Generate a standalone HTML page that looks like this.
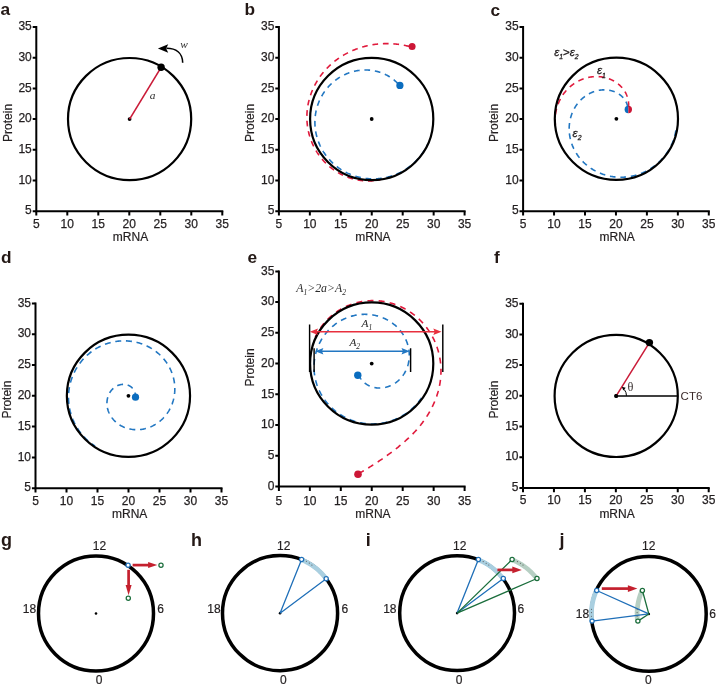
<!DOCTYPE html>
<html><head><meta charset="utf-8"><style>
html,body{margin:0;padding:0;background:#fff;}
svg{display:block;will-change:transform;}
text{font-family:"Liberation Sans",sans-serif;fill:#231f20;}
.tk{font-size:12px;stroke:#231f20;stroke-width:0.25px;}
.at{font-size:12px;stroke:#231f20;stroke-width:0.2px;}
.pl{font-size:17.3px;font-weight:bold;fill:#231815;}
.it{font-family:"Liberation Serif",serif;font-style:italic;font-size:11.4px;fill:#2a2a2a;}
.it2{font-family:"Liberation Serif",serif;font-style:italic;font-size:12px;fill:#3a3a3a;}
.sub{font-size:7.5px;}
.sans{font-family:"Liberation Sans",sans-serif;font-style:normal;}
.eps{font-family:"Liberation Sans",sans-serif;font-style:italic;font-size:11.5px;fill:#231f20;stroke:#231f20;stroke-width:0.3px;}
.esub{font-size:6.8px;}
.gt{font-style:normal;font-size:11.5px;}
.th{font-family:"Liberation Serif",serif;font-size:12.3px;fill:#3a3030;}
.ct{font-size:11.5px;fill:#3b2a2a;}
.ck{font-size:12px;stroke:#231f20;stroke-width:0.2px;}
</style></head><body>
<svg width="716" height="688" viewBox="0 0 716 688">
<text x="0.4" y="15.3" class="pl">a</text>
<text x="244.6" y="15.3" class="pl">b</text>
<text x="490.6" y="15.5" class="pl">c</text>
<text x="1.0" y="262.6" class="pl">d</text>
<text x="247.6" y="262.6" class="pl">e</text>
<text x="493.9" y="262.7" class="pl">f</text>
<text x="1.0" y="546.0" class="pl" style="font-size:18px">g</text>
<text x="191.1" y="545.9" class="pl" style="font-size:18px">h</text>
<text x="365.7" y="546.2" class="pl" style="font-size:18px">i</text>
<text x="559.5" y="546.15" class="pl" style="font-size:18px">j</text>
<path d="M36.30,26.00V211.20H223.30" fill="none" stroke="#000" stroke-width="2"/>
<text x="31.80" y="214.40" text-anchor="end" class="tk">5</text>
<text x="31.80" y="183.70" text-anchor="end" class="tk">10</text>
<text x="31.80" y="153.00" text-anchor="end" class="tk">15</text>
<text x="31.80" y="122.30" text-anchor="end" class="tk">20</text>
<text x="31.80" y="91.60" text-anchor="end" class="tk">25</text>
<text x="31.80" y="60.90" text-anchor="end" class="tk">30</text>
<text x="31.80" y="30.20" text-anchor="end" class="tk">35</text>
<text x="36.30" y="227.60" text-anchor="middle" class="tk">5</text>
<text x="67.30" y="227.60" text-anchor="middle" class="tk">10</text>
<text x="98.30" y="227.60" text-anchor="middle" class="tk">15</text>
<text x="129.30" y="227.60" text-anchor="middle" class="tk">20</text>
<text x="160.30" y="227.60" text-anchor="middle" class="tk">25</text>
<text x="191.30" y="227.60" text-anchor="middle" class="tk">30</text>
<text x="222.30" y="227.60" text-anchor="middle" class="tk">35</text>
<path d="M32.70,211.20H36.30M32.70,180.50H36.30M32.70,149.80H36.30M32.70,119.10H36.30M32.70,88.40H36.30M32.70,57.70H36.30M32.70,27.00H36.30M36.30,211.20V215.60M67.30,211.20V215.60M98.30,211.20V215.60M129.30,211.20V215.60M160.30,211.20V215.60M191.30,211.20V215.60M222.30,211.20V215.60" fill="none" stroke="#000" stroke-width="2"/>
<text x="130.50" y="240.80" text-anchor="middle" class="at">mRNA</text>
<text transform="translate(11.50,122.90) rotate(-90)" text-anchor="middle" class="at">Protein</text>
<ellipse cx="129.60" cy="119.10" rx="61.6" ry="61.1" fill="none" stroke="#000" stroke-width="2.2"/>
<circle cx="129.60" cy="119.10" r="1.9" fill="#000"/>
<line x1="129.60" y1="119.10" x2="161.10" y2="67.30" stroke="#ca1b38" stroke-width="1.6"/>
<circle cx="161.10" cy="67.30" r="3.7" fill="#000"/>
<path d="M182.7,62.8 C182.5,53 176,48.3 166.5,48.3" fill="none" stroke="#000" stroke-width="1.6"/>
<path d="M157.9,48.6 L168.2,44.2 L166.2,48.5 L168.2,52.8 Z" fill="#000"/>
<text x="180.2" y="47.9" class="it">w</text>
<text x="149.8" y="98.9" class="it">a</text>
<path d="M278.90,26.00V211.20H465.60" fill="none" stroke="#000" stroke-width="2"/>
<text x="274.40" y="214.40" text-anchor="end" class="tk">5</text>
<text x="274.40" y="183.70" text-anchor="end" class="tk">10</text>
<text x="274.40" y="153.00" text-anchor="end" class="tk">15</text>
<text x="274.40" y="122.30" text-anchor="end" class="tk">20</text>
<text x="274.40" y="91.60" text-anchor="end" class="tk">25</text>
<text x="274.40" y="60.90" text-anchor="end" class="tk">30</text>
<text x="274.40" y="30.20" text-anchor="end" class="tk">35</text>
<text x="278.90" y="227.60" text-anchor="middle" class="tk">5</text>
<text x="309.85" y="227.60" text-anchor="middle" class="tk">10</text>
<text x="340.80" y="227.60" text-anchor="middle" class="tk">15</text>
<text x="371.75" y="227.60" text-anchor="middle" class="tk">20</text>
<text x="402.70" y="227.60" text-anchor="middle" class="tk">25</text>
<text x="433.65" y="227.60" text-anchor="middle" class="tk">30</text>
<text x="464.60" y="227.60" text-anchor="middle" class="tk">35</text>
<path d="M275.30,211.20H278.90M275.30,180.50H278.90M275.30,149.80H278.90M275.30,119.10H278.90M275.30,88.40H278.90M275.30,57.70H278.90M275.30,27.00H278.90M278.90,211.20V215.60M309.85,211.20V215.60M340.80,211.20V215.60M371.75,211.20V215.60M402.70,211.20V215.60M433.65,211.20V215.60M464.60,211.20V215.60" fill="none" stroke="#000" stroke-width="2"/>
<text x="372.95" y="240.80" text-anchor="middle" class="at">mRNA</text>
<text transform="translate(254.10,122.90) rotate(-90)" text-anchor="middle" class="at">Protein</text>
<path d="M411.82,47.10 L411.20,46.93 L410.58,46.76 L409.96,46.60 L409.34,46.44 L408.72,46.28 L408.09,46.13 L407.47,45.99 L406.85,45.85 L406.23,45.71 L405.61,45.58 L404.99,45.45 L404.37,45.33 L403.76,45.21 L403.14,45.09 L402.52,44.98 L401.90,44.88 L401.28,44.78 L400.67,44.68 L400.05,44.59 L399.43,44.50 L398.82,44.41 L398.20,44.33 L397.59,44.26 L396.97,44.19 L396.36,44.12 L395.75,44.06 L395.14,44.00 L394.53,43.94 L393.92,43.89 L393.31,43.85 L392.70,43.80 L392.09,43.77 L391.48,43.73 L390.87,43.70 L390.27,43.68 L389.66,43.65 L389.06,43.64 L388.46,43.62 L387.86,43.61 L387.25,43.61 L386.65,43.61 L386.05,43.61 L385.46,43.62 L384.86,43.63 L384.26,43.64 L383.67,43.66 L383.07,43.68 L382.48,43.71 L381.89,43.74 L381.30,43.77 L380.71,43.81 L380.12,43.85 L379.54,43.90 L378.95,43.94 L378.37,44.00 L377.78,44.06 L377.20,44.12 L376.62,44.18 L376.04,44.25 L375.46,44.32 L374.89,44.40 L374.31,44.48 L373.74,44.56 L373.17,44.65 L372.60,44.74 L372.03,44.83 L371.46,44.93 L370.89,45.03 L370.33,45.13 L369.77,45.24 L369.21,45.36 L368.65,45.47 L368.09,45.59 L367.53,45.71 L366.97,45.84 L366.42,45.97 L365.87,46.10 L365.32,46.24 L364.77,46.38 L364.22,46.52 L363.68,46.67 L363.14,46.82 L362.59,46.98 L362.05,47.13 L361.52,47.29 L360.98,47.46 L360.45,47.63 L359.91,47.80 L359.38,47.97 L358.85,48.15 L358.33,48.33 L357.80,48.51 L357.28,48.70 L356.76,48.89 L356.24,49.08 L355.72,49.28 L355.21,49.48 L354.69,49.68 L354.18,49.89 L353.67,50.10 L353.17,50.31 L352.66,50.53 L352.16,50.75 L351.66,50.97 L351.16,51.20 L350.66,51.42 L350.17,51.65 L349.68,51.89 L349.19,52.13 L348.70,52.37 L348.21,52.61 L347.73,52.86 L347.25,53.10 L346.77,53.36 L346.29,53.61 L345.82,53.87 L345.35,54.13 L344.88,54.39 L344.41,54.66 L343.94,54.93 L343.48,55.20 L343.02,55.48 L342.56,55.75 L342.11,56.03 L341.65,56.32 L341.20,56.60 L340.75,56.89 L340.31,57.18 L339.86,57.48 L339.42,57.77 L338.98,58.07 L338.54,58.38 L338.11,58.68 L337.68,58.99 L337.25,59.30 L336.82,59.61 L336.40,59.92 L335.98,60.24 L335.56,60.56 L335.14,60.88 L334.73,61.21 L334.32,61.54 L333.91,61.87 L333.51,62.20 L333.10,62.53 L332.70,62.87 L332.30,63.21 L331.91,63.55 L331.52,63.90 L331.13,64.24 L330.74,64.59 L330.36,64.94 L329.97,65.30 L329.60,65.65 L329.22,66.01 L328.85,66.37 L328.48,66.74 L328.11,67.10 L327.74,67.47 L327.38,67.84 L327.02,68.21 L326.67,68.58 L326.31,68.96 L325.96,69.33 L325.61,69.71 L325.27,70.10 L324.93,70.48 L324.59,70.87 L324.25,71.25 L323.92,71.64 L323.59,72.04 L323.26,72.43 L322.94,72.83 L322.62,73.22 L322.30,73.62 L321.98,74.02 L321.67,74.43 L321.36,74.83 L321.05,75.24 L320.75,75.65 L320.45,76.06 L320.15,76.47 L319.86,76.89 L319.57,77.30 L319.28,77.72 L318.99,78.14 L318.71,78.56 L318.43,78.98 L318.16,79.41 L317.89,79.83 L317.62,80.26 L317.35,80.69 L317.09,81.12 L316.83,81.55 L316.57,81.99 L316.32,82.42 L316.07,82.86 L315.82,83.30 L315.57,83.74 L315.33,84.18 L315.10,84.62 L314.86,85.06 L314.63,85.51 L314.40,85.96 L314.18,86.40 L313.96,86.85 L313.74,87.30 L313.52,87.76 L313.31,88.21 L313.10,88.66 L312.90,89.12 L312.70,89.57 L312.50,90.03 L312.31,90.49 L312.11,90.95 L311.93,91.41 L311.74,91.88 L311.56,92.34 L311.38,92.80 L311.21,93.27 L311.03,93.74 L310.87,94.20 L310.70,94.67 L310.54,95.14 L310.38,95.61 L310.23,96.08 L310.08,96.55 L309.93,97.03 L309.79,97.50 L309.64,97.98 L309.51,98.45 L309.37,98.93 L309.24,99.40 L309.12,99.88 L308.99,100.36 L308.87,100.84 L308.76,101.32 L308.64,101.80 L308.53,102.28 L308.43,102.76 L308.32,103.24 L308.22,103.73 L308.13,104.21 L308.04,104.69 L307.95,105.18 L307.86,105.66 L307.78,106.15 L307.70,106.63 L307.63,107.12 L307.56,107.60 L307.49,108.09 L307.42,108.58 L307.36,109.07 L307.31,109.55 L307.25,110.04 L307.20,110.53 L307.16,111.02 L307.11,111.50 L307.07,111.99 L307.04,112.48 L307.01,112.97 L306.98,113.46 L306.95,113.95 L306.93,114.44 L306.91,114.93 L306.90,115.42 L306.89,115.90 L306.88,116.39 L306.88,116.88 L306.88,117.37 L306.88,117.86 L306.89,118.35 L306.90,118.84 L306.91,119.32 L306.93,119.81 L306.95,120.30 L306.97,120.79 L307.00,121.27 L307.03,121.76 L307.07,122.25 L307.11,122.73 L307.15,123.22 L307.20,123.70 L307.25,124.19 L307.30,124.67 L307.35,125.15 L307.41,125.64 L307.48,126.12 L307.55,126.60 L307.62,127.08 L307.69,127.57 L307.77,128.05 L307.85,128.52 L307.94,129.00 L308.02,129.48 L308.12,129.96 L308.21,130.44 L308.31,130.91 L308.41,131.39 L308.52,131.86 L308.63,132.33 L308.74,132.81 L308.86,133.28 L308.98,133.75 L309.10,134.22 L309.23,134.69 L309.36,135.15 L309.49,135.62 L309.63,136.09 L309.77,136.55 L309.91,137.01 L310.06,137.48 L310.21,137.94 L310.37,138.40 L310.52,138.86 L310.69,139.31 L310.85,139.77 L311.02,140.22 L311.19,140.68 L311.37,141.13 L311.54,141.58 L311.72,142.03 L311.91,142.48 L312.10,142.93 L312.29,143.37 L312.48,143.81 L312.68,144.26 L312.88,144.70 L313.09,145.14 L313.30,145.57 L313.51,146.01 L313.72,146.44 L313.94,146.88 L314.16,147.31 L314.39,147.74 L314.61,148.16 L314.84,148.59 L315.08,149.01 L315.32,149.43 L315.56,149.85 L315.80,150.27 L316.05,150.69 L316.30,151.10 L316.55,151.52 L316.81,151.93 L317.06,152.33 L317.33,152.74 L317.59,153.15 L317.86,153.55 L318.13,153.95 L318.41,154.35 L318.68,154.74 L318.96,155.14 L319.25,155.53 L319.53,155.92 L319.82,156.31 L320.11,156.69 L320.41,157.07 L320.71,157.45 L321.01,157.83 L321.31,158.21 L321.62,158.58 L321.93,158.95 L322.24,159.32 L322.56,159.69 L322.87,160.05 L323.19,160.42 L323.52,160.77 L323.84,161.13 L324.17,161.48 L324.50,161.84 L324.84,162.18 L325.18,162.53 L325.51,162.87 L325.86,163.22 L326.20,163.55 L326.55,163.89 L326.90,164.22 L327.25,164.55 L327.61,164.88 L327.96,165.20 L328.32,165.53 L328.69,165.85 L329.05,166.16 L329.42,166.47 L329.79,166.79 L330.16,167.09 L330.53,167.40 L330.91,167.70 L331.29,168.00 L331.67,168.29 L332.05,168.59 L332.44,168.88 L332.83,169.16 L333.22,169.45 L333.61,169.73 L334.00,170.00 L334.40,170.28 L334.80,170.55 L335.20,170.82 L335.60,171.08 L336.00,171.34 L336.41,171.60 L336.82,171.86 L337.23,172.11 L337.64,172.36 L338.06,172.61 L338.47,172.85 L338.89,173.09 L339.31,173.32 L339.73,173.55 L340.16,173.78 L340.58,174.01 L341.01,174.23 L341.44,174.45 L341.87,174.67 L342.30,174.88 L342.73,175.09 L343.17,175.29 L343.60,175.49 L344.04,175.69 L344.48,175.89 L344.92,176.08 L345.36,176.27 L345.81,176.45 L346.25,176.63 L346.70,176.81 L347.15,176.98 L347.60,177.15 L348.05,177.32 L348.50,177.48 L348.95,177.64 L349.40,177.80 L349.86,177.95 L350.31,178.10 L350.77,178.24 L351.23,178.38 L351.69,178.52 L352.15,178.65 L352.61,178.78 L353.07,178.91 L353.54,179.03 L354.00,179.15 L354.46,179.26 L354.93,179.38 L355.40,179.48 L355.86,179.59 L356.33,179.69 L356.80,179.78 L357.27,179.88 L357.74,179.96 L358.21,180.05 L358.68,180.13 L359.15,180.21 L359.62,180.28 L360.09,180.35 L360.56,180.42 L361.04,180.48 L361.51,180.54 L361.98,180.59 L362.46,180.64 L362.93,180.69 L363.41,180.73 L363.88,180.77 L364.36,180.81 L364.83,180.84 L365.30,180.86 L365.78,180.89 L366.25,180.91 L366.73,180.92 L367.20,180.93 L367.68,180.94 L368.15,180.95 L368.63,180.95 L369.10,180.94 L369.58,180.94 L370.05,180.93 L370.52,180.91 L371.00,180.89 L371.47,180.87 L371.94,180.84 L372.41,180.81 L372.88,180.78 L373.36,180.74 L373.83,180.70 L374.30,180.65 L374.77,180.60 L375.23,180.55 L375.70,180.49 L376.17,180.43 L376.64,180.37 L377.10,180.30 L377.57,180.22 L378.03,180.15 L378.49,180.07 L378.96,179.98 L379.42,179.90 L379.88,179.80 L380.34,179.71" fill="none" stroke="#e01a3c" stroke-width="1.6" stroke-dasharray="5.7 4.8" stroke-dashoffset="-2.55"/>
<path d="M399.70,85.64 L399.42,85.30 L399.13,84.96 L398.84,84.62 L398.54,84.29 L398.24,83.96 L397.94,83.63 L397.63,83.31 L397.32,82.99 L397.00,82.67 L396.68,82.35 L396.36,82.04 L396.03,81.73 L395.69,81.43 L395.36,81.12 L395.02,80.82 L394.67,80.52 L394.33,80.23 L393.97,79.94 L393.62,79.65 L393.26,79.37 L392.90,79.09 L392.53,78.81 L392.16,78.54 L391.79,78.27 L391.41,78.00 L391.03,77.74 L390.64,77.48 L390.26,77.22 L389.87,76.97 L389.47,76.73 L389.07,76.48 L388.67,76.24 L388.27,76.01 L387.86,75.77 L387.45,75.55 L387.04,75.32 L386.62,75.10 L386.20,74.89 L385.78,74.68 L385.36,74.47 L384.93,74.27 L384.50,74.07 L384.07,73.87 L383.63,73.68 L383.19,73.50 L382.75,73.32 L382.31,73.14 L381.86,72.97 L381.41,72.80 L380.96,72.64 L380.51,72.48 L380.05,72.33 L379.59,72.18 L379.13,72.03 L378.67,71.89 L378.20,71.76 L377.74,71.63 L377.27,71.50 L376.80,71.38 L376.32,71.27 L375.85,71.16 L375.37,71.05 L374.90,70.95 L374.42,70.85 L373.93,70.76 L373.45,70.68 L372.97,70.59 L372.48,70.52 L371.99,70.45 L371.50,70.38 L371.01,70.32 L370.52,70.26 L370.03,70.21 L369.54,70.17 L369.04,70.13 L368.55,70.09 L368.05,70.06 L367.55,70.04 L367.06,70.02 L366.56,70.00 L366.06,70.00 L365.56,69.99 L365.05,69.99 L364.55,70.00 L364.05,70.01 L363.55,70.03 L363.05,70.05 L362.54,70.08 L362.04,70.11 L361.54,70.15 L361.03,70.20 L360.53,70.24 L360.02,70.30 L359.52,70.36 L359.02,70.42 L358.51,70.50 L358.01,70.57 L357.51,70.65 L357.00,70.74 L356.50,70.83 L356.00,70.93 L355.50,71.03 L355.00,71.14 L354.50,71.25 L354.00,71.37 L353.50,71.50 L353.00,71.63 L352.50,71.76 L352.01,71.90 L351.51,72.05 L351.02,72.20 L350.53,72.35 L350.03,72.52 L349.54,72.68 L349.06,72.85 L348.57,73.03 L348.08,73.21 L347.60,73.40 L347.11,73.59 L346.63,73.79 L346.15,74.00 L345.67,74.20 L345.20,74.42 L344.72,74.64 L344.25,74.86 L343.78,75.09 L343.31,75.33 L342.84,75.56 L342.38,75.81 L341.91,76.06 L341.45,76.31 L341.00,76.57 L340.54,76.84 L340.09,77.11 L339.64,77.38 L339.19,77.66 L338.74,77.95 L338.30,78.24 L337.86,78.53 L337.42,78.83 L336.99,79.13 L336.55,79.44 L336.12,79.75 L335.70,80.07 L335.27,80.39 L334.85,80.72 L334.44,81.05 L334.02,81.39 L333.61,81.73 L333.21,82.08 L332.80,82.43 L332.40,82.78 L332.00,83.14 L331.61,83.50 L331.22,83.87 L330.83,84.24 L330.45,84.62 L330.07,85.00 L329.69,85.38 L329.32,85.77 L328.95,86.16 L328.59,86.56 L328.23,86.96 L327.87,87.37 L327.52,87.78 L327.17,88.19 L326.82,88.61 L326.48,89.03 L326.15,89.45 L325.82,89.88 L325.49,90.31 L325.16,90.75 L324.84,91.19 L324.53,91.63 L324.22,92.08 L323.91,92.53 L323.61,92.98 L323.32,93.44 L323.02,93.90 L322.74,94.36 L322.45,94.83 L322.17,95.30 L321.90,95.77 L321.63,96.25 L321.37,96.73 L321.11,97.21 L320.85,97.70 L320.60,98.19 L320.36,98.68 L320.12,99.17 L319.89,99.67 L319.66,100.17 L319.43,100.67 L319.21,101.18 L319.00,101.68 L318.79,102.19 L318.59,102.71 L318.39,103.22 L318.19,103.74 L318.01,104.26 L317.82,104.78 L317.65,105.30 L317.47,105.83 L317.31,106.36 L317.15,106.89 L316.99,107.42 L316.84,107.95 L316.69,108.49 L316.55,109.03 L316.42,109.57 L316.29,110.11 L316.17,110.65 L316.05,111.20 L315.94,111.74 L315.83,112.29 L315.73,112.84 L315.64,113.39 L315.55,113.94 L315.47,114.49 L315.39,115.04 L315.32,115.60 L315.25,116.15 L315.19,116.71 L315.13,117.27 L315.09,117.83 L315.04,118.39 L315.00,118.95 L314.97,119.51 L314.95,120.07 L314.93,120.63 L314.91,121.19 L314.90,121.75 L314.90,122.32 L314.90,122.88 L314.91,123.44 L314.93,124.01 L314.95,124.57 L314.98,125.14 L315.01,125.70 L315.05,126.26 L315.09,126.83 L315.14,127.39 L315.20,127.95 L315.26,128.52 L315.33,129.08 L315.40,129.64 L315.48,130.20 L315.56,130.77 L315.65,131.33 L315.75,131.89 L315.85,132.45 L315.96,133.00 L316.08,133.56 L316.20,134.12 L316.32,134.67 L316.45,135.23 L316.59,135.78 L316.74,136.33 L316.88,136.88 L317.04,137.43 L317.20,137.98 L317.37,138.53 L317.54,139.08 L317.72,139.62 L317.90,140.16 L318.09,140.70 L318.28,141.24 L318.48,141.78 L318.69,142.32 L318.90,142.85 L319.12,143.38 L319.34,143.91 L319.57,144.44 L319.80,144.96 L320.04,145.49 L320.29,146.01 L320.54,146.53 L320.79,147.04 L321.05,147.56 L321.32,148.07 L321.59,148.58 L321.87,149.09 L322.15,149.59 L322.44,150.09 L322.73,150.59 L323.03,151.08 L323.33,151.58 L323.64,152.07 L323.96,152.55 L324.28,153.04 L324.60,153.52 L324.93,154.00 L325.26,154.47 L325.60,154.94 L325.95,155.41 L326.29,155.88 L326.65,156.34 L327.01,156.80 L327.37,157.25 L327.74,157.70 L328.11,158.15 L328.49,158.59 L328.87,159.03 L329.26,159.47 L329.65,159.90 L330.05,160.33 L330.45,160.76 L330.85,161.18 L331.26,161.59 L331.68,162.01 L332.10,162.42 L332.52,162.82 L332.95,163.22 L333.38,163.62 L333.81,164.01 L334.25,164.40 L334.70,164.78 L335.15,165.16 L335.60,165.54 L336.05,165.91 L336.51,166.27 L336.98,166.63 L337.44,166.99 L337.92,167.34 L338.39,167.69 L338.87,168.03 L339.35,168.37 L339.84,168.71 L340.33,169.03 L340.82,169.36 L341.32,169.68 L341.82,169.99 L342.32,170.30 L342.83,170.60 L343.33,170.90 L343.85,171.20 L344.36,171.49 L344.88,171.77 L345.40,172.05 L345.93,172.32 L346.46,172.59 L346.99,172.85 L347.52,173.11 L348.06,173.36 L348.60,173.61 L349.14,173.85 L349.68,174.09 L350.23,174.32 L350.78,174.54 L351.33,174.76 L351.89,174.98 L352.44,175.19 L353.00,175.39 L353.56,175.59 L354.13,175.78 L354.69,175.97 L355.26,176.15 L355.83,176.32 L356.40,176.49 L356.97,176.65 L357.55,176.81 L358.12,176.97 L358.70,177.11 L359.28,177.25 L359.86,177.39 L360.44,177.52 L361.03,177.64 L361.61,177.76 L362.20,177.87 L362.79,177.98 L363.38,178.08 L363.97,178.17 L364.56,178.26 L365.15,178.34 L365.75,178.42 L366.34,178.49 L366.94,178.55 L367.53,178.61 L368.13,178.66 L368.73,178.71 L369.32,178.75 L369.92,178.78 L370.52,178.81 L371.12,178.84 L371.72,178.85 L372.32,178.86 L372.92,178.87 L373.52,178.87 L374.12,178.86 L374.72,178.85 L375.32,178.83 L375.92,178.80 L376.52,178.77 L377.12,178.73 L377.72,178.69 L378.32,178.64 L378.92,178.58 L379.52,178.52 L380.11,178.45 L380.71,178.38 L381.31,178.30 L381.90,178.22 L382.50,178.12 L383.09,178.03 L383.69,177.92 L384.28,177.81 L384.87,177.70 L385.46,177.58 L386.05,177.45 L386.64,177.32 L387.22,177.18 L387.81,177.04 L388.39,176.88 L388.97,176.73 L389.56,176.57 L390.13,176.40 L390.71,176.22 L391.29,176.04 L391.86,175.86 L392.43,175.67 L393.01,175.47 L393.57,175.27 L394.14,175.06 L394.71,174.85 L395.27,174.63 L395.83,174.40 L396.39,174.17 L396.94,173.93 L397.50,173.69 L398.05,173.44 L398.60,173.19 L399.14,172.93 L399.69,172.67 L400.23,172.40 L400.76,172.12 L401.30,171.84 L401.83,171.56 L402.36,171.27 L402.89,170.97 L403.41,170.67 L403.94,170.36 L404.45,170.05 L404.97,169.73 L405.48,169.41 L405.99,169.08 L406.50,168.75 L407.00,168.41 L407.50,168.07 L407.99,167.72 L408.48,167.37 L408.97,167.01 L409.46,166.65 L409.94,166.28 L410.42,165.91 L410.89,165.53 L411.36,165.15 L411.83,164.76 L412.29,164.37 L412.75,163.97 L413.20,163.57 L413.65,163.17 L414.10,162.76 L414.54,162.34 L414.98,161.93 L415.41,161.50 L415.84,161.08 L416.27,160.64 L416.69,160.21 L417.11,159.77 L417.52,159.32 L417.93,158.88 L418.33,158.42 L418.73,157.97 L419.12,157.51 L419.51,157.04 L419.90,156.57 L420.28,156.10 L420.65,155.63 L421.02,155.15 L421.39,154.66 L421.75,154.18 L422.11,153.68 L422.46,153.19 L422.81,152.69 L423.15,152.19 L423.48,151.69 L423.82,151.18 L424.14,150.67 L424.46,150.15 L424.78,149.63 L425.09,149.11 L425.40,148.59 L425.70,148.06 L425.99,147.53 L426.28,147.00 L426.57,146.46 L426.84,145.92 L427.12,145.38 L427.39,144.83" fill="none" stroke="#2277c2" stroke-width="1.6" stroke-dasharray="5.7 4.8" stroke-dashoffset="-2.75"/>
<ellipse cx="371.70" cy="119.00" rx="61.6" ry="61.1" fill="none" stroke="#000" stroke-width="2.2"/>
<circle cx="371.70" cy="119.00" r="1.9" fill="#000"/>
<circle cx="412.1" cy="46.6" r="3.5" fill="#cc1636"/>
<circle cx="399.9" cy="85.4" r="3.6" fill="#0b6dbf"/>
<path d="M523.10,26.00V211.20H709.80" fill="none" stroke="#000" stroke-width="2"/>
<text x="518.60" y="214.40" text-anchor="end" class="tk">5</text>
<text x="518.60" y="183.70" text-anchor="end" class="tk">10</text>
<text x="518.60" y="153.00" text-anchor="end" class="tk">15</text>
<text x="518.60" y="122.30" text-anchor="end" class="tk">20</text>
<text x="518.60" y="91.60" text-anchor="end" class="tk">25</text>
<text x="518.60" y="60.90" text-anchor="end" class="tk">30</text>
<text x="518.60" y="30.20" text-anchor="end" class="tk">35</text>
<text x="523.10" y="227.60" text-anchor="middle" class="tk">5</text>
<text x="554.05" y="227.60" text-anchor="middle" class="tk">10</text>
<text x="585.00" y="227.60" text-anchor="middle" class="tk">15</text>
<text x="615.95" y="227.60" text-anchor="middle" class="tk">20</text>
<text x="646.90" y="227.60" text-anchor="middle" class="tk">25</text>
<text x="677.85" y="227.60" text-anchor="middle" class="tk">30</text>
<text x="708.80" y="227.60" text-anchor="middle" class="tk">35</text>
<path d="M519.50,211.20H523.10M519.50,180.50H523.10M519.50,149.80H523.10M519.50,119.10H523.10M519.50,88.40H523.10M519.50,57.70H523.10M519.50,27.00H523.10M523.10,211.20V215.60M554.05,211.20V215.60M585.00,211.20V215.60M615.95,211.20V215.60M646.90,211.20V215.60M677.85,211.20V215.60M708.80,211.20V215.60" fill="none" stroke="#000" stroke-width="2"/>
<text x="617.15" y="240.80" text-anchor="middle" class="at">mRNA</text>
<text transform="translate(498.30,122.90) rotate(-90)" text-anchor="middle" class="at">Protein</text>
<path d="M627.92,109.68 L627.95,109.55 L627.98,109.42 L628.02,109.30 L628.05,109.16 L628.08,109.03 L628.11,108.90 L628.14,108.77 L628.17,108.64 L628.20,108.50 L628.23,108.37 L628.25,108.23 L628.28,108.09 L628.31,107.96 L628.33,107.82 L628.35,107.68 L628.38,107.54 L628.40,107.40 L628.42,107.26 L628.44,107.12 L628.46,106.97 L628.47,106.83 L628.49,106.69 L628.51,106.54 L628.52,106.40 L628.54,106.25 L628.55,106.10 L628.56,105.95 L628.57,105.81 L628.58,105.66 L628.59,105.51 L628.60,105.36 L628.61,105.21 L628.61,105.05 L628.62,104.90 L628.62,104.75 L628.62,104.60 L628.63,104.44 L628.63,104.29 L628.63,104.13 L628.62,103.98 L628.62,103.82 L628.62,103.66 L628.61,103.51 L628.61,103.35 L628.60,103.19 L628.59,103.03 L628.58,102.87 L628.57,102.71 L628.56,102.55 L628.54,102.39 L628.53,102.23 L628.51,102.06 L628.50,101.90 L628.48,101.74 L628.46,101.58 L628.44,101.41 L628.42,101.25 L628.39,101.08 L628.37,100.92 L628.34,100.75 L628.32,100.59 L628.29,100.42 L628.26,100.25 L628.23,100.09 L628.20,99.92 L628.16,99.75 L628.13,99.58 L628.09,99.41 L628.05,99.25 L628.01,99.08 L627.97,98.91 L627.93,98.74 L627.89,98.57 L627.85,98.40 L627.80,98.23 L627.75,98.06 L627.70,97.89 L627.65,97.72 L627.60,97.55 L627.55,97.38 L627.50,97.20 L627.44,97.03 L627.38,96.86 L627.33,96.69 L627.27,96.52 L627.20,96.35 L627.14,96.17 L627.08,96.00 L627.01,95.83 L626.95,95.66 L626.88,95.48 L626.81,95.31 L626.74,95.14 L626.66,94.97 L626.59,94.80 L626.51,94.62 L626.44,94.45 L626.36,94.28 L626.28,94.11 L626.20,93.94 L626.11,93.76 L626.03,93.59 L625.94,93.42 L625.86,93.25 L625.77,93.08 L625.68,92.91 L625.58,92.73 L625.49,92.56 L625.40,92.39 L625.30,92.22 L625.20,92.05 L625.10,91.88 L625.00,91.71 L624.90,91.54 L624.79,91.37 L624.69,91.20 L624.58,91.04 L624.47,90.87 L624.36,90.70 L624.25,90.53 L624.14,90.36 L624.02,90.20 L623.91,90.03 L623.79,89.87 L623.67,89.70 L623.55,89.53 L623.43,89.37 L623.30,89.20 L623.18,89.04 L623.05,88.88 L622.92,88.71 L622.79,88.55 L622.66,88.39 L622.53,88.23 L622.40,88.07 L622.26,87.91 L622.12,87.75 L621.98,87.59 L621.84,87.43 L621.70,87.27 L621.56,87.11 L621.42,86.96 L621.27,86.80 L621.12,86.65 L620.97,86.49 L620.82,86.34 L620.67,86.18 L620.52,86.03 L620.36,85.88 L620.20,85.73 L620.05,85.58 L619.89,85.43 L619.73,85.28 L619.56,85.13 L619.40,84.99 L619.24,84.84 L619.07,84.69 L618.90,84.55 L618.73,84.41 L618.56,84.26 L618.39,84.12 L618.21,83.98 L618.04,83.84 L617.86,83.70 L617.68,83.56 L617.51,83.43 L617.32,83.29 L617.14,83.15 L616.96,83.02 L616.77,82.89 L616.59,82.75 L616.40,82.62 L616.21,82.49 L616.02,82.36 L615.83,82.24 L615.64,82.11 L615.44,81.98 L615.25,81.86 L615.05,81.74 L614.85,81.61 L614.65,81.49 L614.45,81.37 L614.25,81.25 L614.05,81.14 L613.84,81.02 L613.64,80.91 L613.43,80.79 L613.22,80.68 L613.01,80.57 L612.80,80.46 L612.59,80.35 L612.38,80.24 L612.16,80.14 L611.95,80.03 L611.73,79.93 L611.51,79.83 L611.29,79.72 L611.07,79.63 L610.85,79.53 L610.63,79.43 L610.41,79.34 L610.18,79.24 L609.96,79.15 L609.73,79.06 L609.50,78.97 L609.27,78.88 L609.04,78.79 L608.81,78.71 L608.58,78.63 L608.35,78.54 L608.11,78.46 L607.88,78.38 L607.64,78.31 L607.40,78.23 L607.17,78.16 L606.93,78.08 L606.69,78.01 L606.45,77.94 L606.20,77.88 L605.96,77.81 L605.72,77.74 L605.47,77.68 L605.23,77.62 L604.98,77.56 L604.74,77.50 L604.49,77.45 L604.24,77.39 L603.99,77.34 L603.74,77.29 L603.49,77.24 L603.24,77.19 L602.98,77.14 L602.73,77.10 L602.48,77.05 L602.22,77.01 L601.97,76.97 L601.71,76.94 L601.45,76.90 L601.20,76.87 L600.94,76.83 L600.68,76.80 L600.42,76.77 L600.16,76.75 L599.90,76.72 L599.64,76.70 L599.38,76.68 L599.11,76.66 L598.85,76.64 L598.59,76.62 L598.33,76.61 L598.06,76.60 L597.80,76.59 L597.53,76.58 L597.27,76.57 L597.00,76.57 L596.73,76.57 L596.47,76.57 L596.20,76.57 L595.93,76.57 L595.66,76.57 L595.40,76.58 L595.13,76.59 L594.86,76.60 L594.59,76.61 L594.32,76.63 L594.05,76.64 L593.78,76.66 L593.51,76.68 L593.24,76.71 L592.97,76.73 L592.70,76.76 L592.43,76.78 L592.16,76.81 L591.89,76.85 L591.62,76.88 L591.34,76.92 L591.07,76.96 L590.80,77.00 L590.53,77.04 L590.26,77.08 L589.99,77.13 L589.72,77.18 L589.44,77.23 L589.17,77.28 L588.90,77.33 L588.63,77.39 L588.36,77.45 L588.09,77.51 L587.82,77.57 L587.55,77.63 L587.28,77.70 L587.01,77.77 L586.73,77.84 L586.46,77.91 L586.19,77.98 L585.93,78.06 L585.66,78.14 L585.39,78.22 L585.12,78.30 L584.85,78.38 L584.58,78.47 L584.31,78.56 L584.04,78.65 L583.78,78.74 L583.51,78.83 L583.24,78.93 L582.98,79.03 L582.71,79.13 L582.45,79.23 L582.18,79.33 L581.92,79.44 L581.65,79.55 L581.39,79.66 L581.13,79.77 L580.86,79.88 L580.60,80.00 L580.34,80.12 L580.08,80.24 L579.82,80.36 L579.56,80.48 L579.30,80.61 L579.04,80.73 L578.79,80.86 L578.53,80.99 L578.27,81.13 L578.02,81.26 L577.76,81.40 L577.51,81.54 L577.25,81.68 L577.00,81.82 L576.75,81.97 L576.50,82.11 L576.25,82.26 L576.00,82.41 L575.75,82.56 L575.50,82.72 L575.26,82.87 L575.01,83.03 L574.76,83.19 L574.52,83.35 L574.28,83.51 L574.03,83.68 L573.79,83.85 L573.55,84.01 L573.31,84.18 L573.07,84.36 L572.84,84.53 L572.60,84.71 L572.36,84.88 L572.13,85.06 L571.90,85.25 L571.66,85.43 L571.43,85.61 L571.20,85.80 L570.97,85.99 L570.75,86.18 L570.52,86.37 L570.29,86.56 L570.07,86.76 L569.85,86.95 L569.63,87.15 L569.40,87.35 L569.19,87.55 L568.97,87.76 L568.75,87.96 L568.54,88.17 L568.32,88.38 L568.11,88.59 L567.90,88.80 L567.69,89.01 L567.48,89.23 L567.27,89.44 L567.06,89.66 L566.86,89.88 L566.65,90.10 L566.45,90.32 L566.25,90.55 L566.05,90.77 L565.85,91.00 L565.66,91.23 L565.46,91.46 L565.27,91.69 L565.08,91.93 L564.89,92.16 L564.70,92.40 L564.51,92.63 L564.33,92.87 L564.14,93.11 L563.96,93.35 L563.78,93.60 L563.60,93.84 L563.42,94.09 L563.24,94.34 L563.07,94.58 L562.90,94.83 L562.73,95.09 L562.56,95.34 L562.39,95.59 L562.22,95.85 L562.06,96.10 L561.89,96.36 L561.73,96.62 L561.57,96.88 L561.42,97.14 L561.26,97.40 L561.11,97.67 L560.95,97.93 L560.80,98.20 L560.65,98.47 L560.51,98.74 L560.36,99.00 L560.22,99.28 L560.08,99.55 L559.94,99.82 L559.80,100.09 L559.66,100.37 L559.53,100.65 L559.40,100.92 L559.26,101.20 L559.14,101.48 L559.01,101.76 L558.88,102.04 L558.76,102.32 L558.64,102.61 L558.52,102.89 L558.40,103.18 L558.29,103.46 L558.18,103.75 L558.06,104.04 L557.96,104.32 L557.85,104.61 L557.74,104.90 L557.64,105.19 L557.54,105.49 L557.44,105.78 L557.34,106.07 L557.25,106.37 L557.15,106.66 L557.06,106.96 L556.97,107.25 L556.88,107.55 L556.80,107.85 L556.72,108.15 L556.64,108.45 L556.56,108.74 L556.48,109.04 L556.41,109.35 L556.33,109.65 L556.26,109.95 L556.19,110.25 L556.13,110.55 L556.06,110.86 L556.00,111.16 L555.94,111.47 L555.88,111.77 L555.83,112.08 L555.77,112.38 L555.72,112.69 L555.67,113.00 L555.63,113.30 L555.58,113.61 L555.54,113.92 L555.50,114.23 L555.46,114.54 L555.42,114.84 L555.39,115.15 L555.36,115.46 L555.33,115.77 L555.30,116.08 L555.27,116.39 L555.25,116.70 L555.23,117.01 L555.21,117.32 L555.19,117.63 L555.18,117.95 L555.16,118.26 L555.15,118.57 L555.15,118.88 L555.14,119.19 L555.14,119.50 L555.13,119.81 L555.14,120.12 L555.14,120.44 L555.14,120.75 L555.15,121.06 L555.16,121.37 L555.17,121.68 L555.19,121.99 L555.20,122.30 L555.22,122.61 L555.24,122.92 L555.26,123.24 L555.29,123.55 L555.32,123.86 L555.35,124.17 L555.38,124.48 L555.41,124.79 L555.45,125.09 L555.49,125.40" fill="none" stroke="#e01a3c" stroke-width="1.6" stroke-dasharray="5.7 4.8" stroke-dashoffset="-2.6"/>
<path d="M627.88,109.71 L627.89,109.49 L627.89,109.27 L627.89,109.05 L627.88,108.83 L627.87,108.60 L627.86,108.38 L627.85,108.15 L627.83,107.93 L627.81,107.70 L627.78,107.47 L627.75,107.24 L627.72,107.01 L627.68,106.78 L627.64,106.55 L627.60,106.32 L627.55,106.08 L627.50,105.85 L627.44,105.62 L627.38,105.38 L627.32,105.15 L627.25,104.91 L627.18,104.68 L627.11,104.44 L627.03,104.21 L626.95,103.97 L626.86,103.74 L626.77,103.50 L626.68,103.27 L626.58,103.03 L626.48,102.80 L626.37,102.56 L626.26,102.33 L626.15,102.10 L626.03,101.86 L625.91,101.63 L625.79,101.40 L625.66,101.17 L625.52,100.93 L625.39,100.70 L625.25,100.48 L625.10,100.25 L624.95,100.02 L624.80,99.79 L624.64,99.57 L624.48,99.34 L624.32,99.12 L624.15,98.90 L623.98,98.68 L623.80,98.46 L623.62,98.24 L623.43,98.02 L623.25,97.81 L623.05,97.59 L622.86,97.38 L622.66,97.17 L622.45,96.96 L622.25,96.76 L622.04,96.55 L621.82,96.35 L621.60,96.15 L621.38,95.95 L621.15,95.76 L620.92,95.56 L620.69,95.37 L620.45,95.18 L620.21,94.99 L619.97,94.81 L619.72,94.63 L619.47,94.45 L619.21,94.27 L618.95,94.09 L618.69,93.92 L618.42,93.75 L618.15,93.59 L617.88,93.42 L617.60,93.26 L617.33,93.11 L617.04,92.95 L616.76,92.80 L616.47,92.65 L616.18,92.51 L615.88,92.37 L615.58,92.23 L615.28,92.09 L614.98,91.96 L614.67,91.83 L614.36,91.71 L614.04,91.59 L613.73,91.47 L613.41,91.36 L613.09,91.25 L612.76,91.14 L612.43,91.04 L612.10,90.94 L611.77,90.85 L611.44,90.76 L611.10,90.67 L610.76,90.59 L610.41,90.51 L610.07,90.43 L609.72,90.36 L609.37,90.30 L609.02,90.24 L608.67,90.18 L608.31,90.13 L607.95,90.08 L607.59,90.03 L607.23,89.99 L606.87,89.96 L606.50,89.93 L606.14,89.90 L605.77,89.88 L605.40,89.86 L605.02,89.85 L604.65,89.84 L604.28,89.84 L603.90,89.84 L603.52,89.85 L603.14,89.86 L602.76,89.88 L602.38,89.90 L602.00,89.93 L601.62,89.96 L601.23,89.99 L600.85,90.04 L600.46,90.08 L600.08,90.13 L599.69,90.19 L599.30,90.25 L598.91,90.32 L598.52,90.39 L598.13,90.47 L597.74,90.55 L597.35,90.64 L596.96,90.73 L596.57,90.83 L596.18,90.93 L595.79,91.04 L595.40,91.15 L595.01,91.27 L594.63,91.39 L594.24,91.52 L593.85,91.66 L593.46,91.80 L593.07,91.94 L592.68,92.09 L592.30,92.25 L591.91,92.41 L591.53,92.57 L591.14,92.74 L590.76,92.92 L590.38,93.10 L590.00,93.29 L589.62,93.48 L589.24,93.68 L588.86,93.88 L588.49,94.09 L588.11,94.31 L587.74,94.53 L587.37,94.75 L587.00,94.98 L586.63,95.22 L586.27,95.46 L585.90,95.70 L585.54,95.95 L585.18,96.21 L584.83,96.47 L584.47,96.73 L584.12,97.01 L583.77,97.28 L583.42,97.56 L583.08,97.85 L582.73,98.14 L582.39,98.44 L582.06,98.74 L581.72,99.05 L581.39,99.36 L581.06,99.67 L580.74,99.99 L580.41,100.32 L580.09,100.65 L579.78,100.99 L579.47,101.33 L579.16,101.67 L578.85,102.02 L578.55,102.38 L578.25,102.74 L577.95,103.10 L577.66,103.47 L577.38,103.84 L577.09,104.22 L576.81,104.60 L576.54,104.99 L576.27,105.38 L576.00,105.77 L575.74,106.17 L575.48,106.58 L575.22,106.98 L574.97,107.40 L574.73,107.81 L574.49,108.23 L574.25,108.66 L574.02,109.08 L573.79,109.51 L573.57,109.95 L573.35,110.39 L573.14,110.83 L572.93,111.28 L572.73,111.73 L572.53,112.18 L572.34,112.64 L572.15,113.10 L571.97,113.56 L571.79,114.03 L571.62,114.50 L571.45,114.97 L571.29,115.45 L571.14,115.93 L570.99,116.41 L570.84,116.90 L570.70,117.39 L570.57,117.88 L570.44,118.37 L570.32,118.87 L570.21,119.36 L570.10,119.87 L569.99,120.37 L569.90,120.88 L569.80,121.38 L569.72,121.89 L569.64,122.41 L569.56,122.92 L569.50,123.44 L569.43,123.96 L569.38,124.48 L569.33,125.00 L569.29,125.52 L569.25,126.05 L569.22,126.58 L569.20,127.11 L569.18,127.64 L569.17,128.17 L569.17,128.70 L569.17,129.23 L569.18,129.77 L569.19,130.30 L569.21,130.84 L569.24,131.38 L569.28,131.91 L569.32,132.45 L569.36,132.99 L569.42,133.53 L569.48,134.07 L569.55,134.61 L569.62,135.15 L569.70,135.69 L569.79,136.23 L569.89,136.77 L569.99,137.31 L570.10,137.85 L570.21,138.39 L570.33,138.93 L570.46,139.47 L570.60,140.01 L570.74,140.55 L570.89,141.09 L571.05,141.62 L571.21,142.16 L571.38,142.69 L571.55,143.22 L571.74,143.76 L571.93,144.29 L572.12,144.82 L572.32,145.35 L572.53,145.87 L572.75,146.40 L572.97,146.92 L573.20,147.44 L573.44,147.96 L573.68,148.48 L573.93,148.99 L574.19,149.51 L574.45,150.02 L574.72,150.53 L575.00,151.03 L575.28,151.54 L575.57,152.04 L575.87,152.54 L576.17,153.04 L576.48,153.53 L576.80,154.02 L577.12,154.51 L577.45,154.99 L577.78,155.47 L578.12,155.95 L578.47,156.42 L578.82,156.90 L579.18,157.36 L579.55,157.83 L579.92,158.29 L580.30,158.74 L580.68,159.20 L581.07,159.65 L581.47,160.09 L581.87,160.53 L582.28,160.97 L582.69,161.40 L583.11,161.83 L583.53,162.25 L583.97,162.67 L584.40,163.09 L584.84,163.50 L585.29,163.90 L585.75,164.30 L586.20,164.70 L586.67,165.09 L587.14,165.48 L587.61,165.86 L588.09,166.23 L588.58,166.60 L589.07,166.97 L589.56,167.33 L590.06,167.68 L590.56,168.03 L591.07,168.38 L591.59,168.72 L592.11,169.05 L592.63,169.37 L593.16,169.70 L593.69,170.01 L594.23,170.32 L594.77,170.62 L595.32,170.92 L595.87,171.21 L596.42,171.49 L596.98,171.77 L597.54,172.05 L598.10,172.31 L598.67,172.57 L599.25,172.82 L599.82,173.07 L600.41,173.31 L600.99,173.54 L601.58,173.77 L602.17,173.99 L602.76,174.20 L603.36,174.41 L603.96,174.61 L604.56,174.80 L605.17,174.99 L605.78,175.17 L606.39,175.34 L607.00,175.50 L607.62,175.66 L608.24,175.81 L608.86,175.95 L609.49,176.09 L610.11,176.22 L610.74,176.34 L611.37,176.45 L612.01,176.56 L612.64,176.66 L613.28,176.75 L613.91,176.84 L614.55,176.91 L615.19,176.98 L615.84,177.05 L616.48,177.10 L617.13,177.15 L617.77,177.19 L618.42,177.22 L619.07,177.24 L619.71,177.26 L620.36,177.27 L621.01,177.27 L621.66,177.26 L622.31,177.25 L622.97,177.23 L623.62,177.20 L624.27,177.16 L624.92,177.12 L625.57,177.06 L626.22,177.00 L626.87,176.93 L627.52,176.86 L628.17,176.77 L628.82,176.68 L629.47,176.58 L630.12,176.48 L630.77,176.36 L631.41,176.24 L632.06,176.11 L632.70,175.97 L633.34,175.83 L633.99,175.68 L634.63,175.51 L635.26,175.35 L635.90,175.17 L636.54,174.99 L637.17,174.80 L637.80,174.60 L638.43,174.39 L639.06,174.18 L639.68,173.95 L640.30,173.73 L640.92,173.49 L641.54,173.25 L642.15,172.99 L642.77,172.74 L643.37,172.47 L643.98,172.20 L644.58,171.92 L645.18,171.63 L645.78,171.33 L646.37,171.03 L646.96,170.72 L647.55,170.41 L648.13,170.08 L648.71,169.75 L649.29,169.41 L649.86,169.07 L650.43,168.72 L650.99,168.36 L651.55,167.99 L652.11,167.62 L652.66,167.24 L653.20,166.86 L653.74,166.47 L654.28,166.07 L654.82,165.67 L655.34,165.25 L655.87,164.84 L656.39,164.41 L656.90,163.98 L657.41,163.55 L657.91,163.11 L658.41,162.66 L658.90,162.20 L659.39,161.74 L659.87,161.28 L660.35,160.80 L660.82,160.33 L661.28,159.84 L661.74,159.35 L662.19,158.86 L662.64,158.36 L663.08,157.86 L663.52,157.35 L663.95,156.83 L664.37,156.31 L664.79,155.78 L665.20,155.25 L665.60,154.72 L666.00,154.18 L666.39,153.63 L666.78,153.08 L667.15,152.53 L667.52,151.97 L667.89,151.40 L668.25,150.84 L668.60,150.26 L668.94,149.69 L669.28,149.11 L669.61,148.52 L669.93,147.94 L670.25,147.35 L670.55,146.75 L670.85,146.15 L671.15,145.55 L671.43,144.94 L671.71,144.33 L671.99,143.72 L672.25,143.10 L672.51,142.49 L672.76,141.86 L673.00,141.24 L673.23,140.61 L673.46,139.98 L673.68,139.35 L673.89,138.71 L674.09,138.08 L674.28,137.44 L674.47,136.80 L674.65,136.15 L674.82,135.51 L674.99,134.86 L675.14,134.21 L675.29,133.56 L675.43,132.90 L675.56,132.25 L675.69,131.60 L675.80,130.94 L675.91,130.28 L676.01,129.62 L676.10,128.96 L676.19,128.30 L676.26,127.64 L676.33,126.98 L676.39,126.31" fill="none" stroke="#2277c2" stroke-width="1.6" stroke-dasharray="5.7 4.8" stroke-dashoffset="-2.6"/>
<ellipse cx="616.40" cy="118.80" rx="61.6" ry="61.1" fill="none" stroke="#000" stroke-width="2.2"/>
<circle cx="616.40" cy="118.80" r="1.9" fill="#000"/>
<path d="M628.30,105.75 A3.7,3.7 0 0 0 628.30,113.15 Z" fill="#0b6dbf"/>
<path d="M628.30,105.75 A3.7,3.7 0 0 1 628.30,113.15 Z" fill="#cc1636"/>
<text x="554.2" y="55.7" class="eps">&#949;<tspan class="esub" dy="3.1">1</tspan><tspan dy="-3.1" class="gt">&gt;</tspan>&#949;<tspan class="esub" dy="3.1">2</tspan></text>
<text x="596.9" y="74.4" class="eps">&#949;<tspan class="esub" dy="3.1">1</tspan></text>
<text x="572.6" y="137" class="eps">&#949;<tspan class="esub" dy="3.1">2</tspan></text>
<path d="M35.50,302.40V488.20H222.50" fill="none" stroke="#000" stroke-width="2"/>
<text x="31.00" y="491.40" text-anchor="end" class="tk">5</text>
<text x="31.00" y="460.60" text-anchor="end" class="tk">10</text>
<text x="31.00" y="429.80" text-anchor="end" class="tk">15</text>
<text x="31.00" y="399.00" text-anchor="end" class="tk">20</text>
<text x="31.00" y="368.20" text-anchor="end" class="tk">25</text>
<text x="31.00" y="337.40" text-anchor="end" class="tk">30</text>
<text x="31.00" y="306.60" text-anchor="end" class="tk">35</text>
<text x="35.50" y="504.60" text-anchor="middle" class="tk">5</text>
<text x="66.50" y="504.60" text-anchor="middle" class="tk">10</text>
<text x="97.50" y="504.60" text-anchor="middle" class="tk">15</text>
<text x="128.50" y="504.60" text-anchor="middle" class="tk">20</text>
<text x="159.50" y="504.60" text-anchor="middle" class="tk">25</text>
<text x="190.50" y="504.60" text-anchor="middle" class="tk">30</text>
<text x="221.50" y="504.60" text-anchor="middle" class="tk">35</text>
<path d="M31.90,488.20H35.50M31.90,457.40H35.50M31.90,426.60H35.50M31.90,395.80H35.50M31.90,365.00H35.50M31.90,334.20H35.50M31.90,303.40H35.50M35.50,488.20V492.60M66.50,488.20V492.60M97.50,488.20V492.60M128.50,488.20V492.60M159.50,488.20V492.60M190.50,488.20V492.60M221.50,488.20V492.60" fill="none" stroke="#000" stroke-width="2"/>
<text x="129.70" y="517.80" text-anchor="middle" class="at">mRNA</text>
<text transform="translate(10.70,399.60) rotate(-90)" text-anchor="middle" class="at">Protein</text>
<path d="M135.67,397.13 L135.67,396.98 L135.67,396.82 L135.67,396.67 L135.66,396.51 L135.66,396.36 L135.65,396.21 L135.64,396.06 L135.63,395.91 L135.62,395.76 L135.60,395.61 L135.59,395.46 L135.57,395.31 L135.55,395.16 L135.53,395.01 L135.51,394.86 L135.49,394.71 L135.47,394.57 L135.44,394.42 L135.42,394.27 L135.39,394.13 L135.36,393.98 L135.33,393.83 L135.29,393.68 L135.26,393.54 L135.22,393.39 L135.19,393.24 L135.15,393.10 L135.11,392.95 L135.06,392.80 L135.02,392.65 L134.97,392.51 L134.92,392.36 L134.87,392.21 L134.82,392.06 L134.76,391.91 L134.70,391.76 L134.64,391.62 L134.58,391.47 L134.52,391.32 L134.45,391.17 L134.38,391.02 L134.31,390.87 L134.23,390.72 L134.15,390.57 L134.07,390.42 L133.99,390.27 L133.90,390.12 L133.82,389.97 L133.72,389.82 L133.63,389.67 L133.53,389.52 L133.43,389.37 L133.32,389.23 L133.22,389.08 L133.10,388.93 L132.99,388.78 L132.87,388.64 L132.75,388.49 L132.62,388.35 L132.49,388.20 L132.36,388.06 L132.22,387.92 L132.08,387.77 L131.94,387.63 L131.79,387.50 L131.64,387.36 L131.48,387.22 L131.32,387.09 L131.16,386.96 L130.99,386.83 L130.82,386.70 L130.64,386.57 L130.46,386.44 L130.28,386.32 L130.09,386.20 L129.89,386.09 L129.70,385.97 L129.49,385.86 L129.29,385.75 L129.08,385.64 L128.86,385.54 L128.65,385.44 L128.42,385.35 L128.20,385.25 L127.97,385.16 L127.73,385.08 L127.50,385.00 L127.25,384.92 L127.01,384.85 L126.76,384.78 L126.50,384.72 L126.25,384.66 L125.99,384.61 L125.72,384.56 L125.45,384.51 L125.18,384.47 L124.91,384.44 L124.63,384.41 L124.35,384.39 L124.06,384.38 L123.78,384.37 L123.49,384.36 L123.19,384.36 L122.90,384.37 L122.60,384.39 L122.30,384.41 L122.00,384.44 L121.70,384.47 L121.39,384.52 L121.08,384.56 L120.77,384.62 L120.46,384.68 L120.15,384.76 L119.84,384.83 L119.52,384.92 L119.21,385.01 L118.89,385.12 L118.58,385.22 L118.26,385.34 L117.94,385.47 L117.63,385.60 L117.31,385.74 L117.00,385.89 L116.68,386.05 L116.37,386.22 L116.05,386.39 L115.74,386.57 L115.43,386.77 L115.13,386.97 L114.82,387.18 L114.52,387.39 L114.22,387.62 L113.92,387.85 L113.62,388.10 L113.33,388.35 L113.04,388.61 L112.76,388.88 L112.48,389.15 L112.20,389.44 L111.93,389.73 L111.66,390.03 L111.40,390.35 L111.14,390.66 L110.89,390.99 L110.64,391.33 L110.40,391.67 L110.17,392.02 L109.94,392.38 L109.71,392.75 L109.50,393.13 L109.29,393.51 L109.09,393.90 L108.90,394.30 L108.71,394.70 L108.53,395.11 L108.36,395.53 L108.20,395.96 L108.05,396.39 L107.91,396.83 L107.77,397.28 L107.65,397.73 L107.53,398.19 L107.42,398.65 L107.33,399.12 L107.24,399.60 L107.17,400.08 L107.10,400.56 L107.05,401.05 L107.00,401.55 L106.97,402.04 L106.95,402.55 L106.94,403.05 L106.94,403.56 L106.95,404.08 L106.98,404.59 L107.02,405.11 L107.07,405.64 L107.13,406.16 L107.20,406.69 L107.29,407.21 L107.39,407.74 L107.50,408.27 L107.63,408.80 L107.77,409.34 L107.92,409.87 L108.08,410.40 L108.26,410.93 L108.45,411.46 L108.66,411.99 L108.88,412.52 L109.11,413.04 L109.35,413.57 L109.61,414.09 L109.88,414.61 L110.17,415.12 L110.47,415.64 L110.78,416.14 L111.11,416.65 L111.45,417.15 L111.80,417.64 L112.17,418.13 L112.55,418.62 L112.94,419.10 L113.34,419.57 L113.76,420.03 L114.20,420.49 L114.64,420.94 L115.10,421.39 L115.57,421.82 L116.05,422.25 L116.55,422.67 L117.06,423.08 L117.58,423.48 L118.11,423.87 L118.66,424.26 L119.21,424.63 L119.78,424.99 L120.36,425.34 L120.95,425.68 L121.55,426.00 L122.16,426.32 L122.78,426.62 L123.41,426.91 L124.05,427.19 L124.70,427.45 L125.36,427.70 L126.03,427.94 L126.71,428.16 L127.39,428.37 L128.09,428.57 L128.79,428.75 L129.50,428.91 L130.22,429.06 L130.94,429.20 L131.67,429.32 L132.41,429.42 L133.15,429.51 L133.90,429.58 L134.65,429.63 L135.41,429.67 L136.17,429.69 L136.93,429.69 L137.70,429.68 L138.47,429.65 L139.25,429.60 L140.03,429.53 L140.81,429.45 L141.59,429.35 L142.37,429.23 L143.15,429.09 L143.93,428.93 L144.72,428.76 L145.50,428.56 L146.28,428.35 L147.06,428.12 L147.84,427.87 L148.61,427.61 L149.38,427.32 L150.15,427.02 L150.92,426.70 L151.68,426.36 L152.43,426.00 L153.19,425.62 L153.93,425.22 L154.67,424.81 L155.40,424.38 L156.13,423.92 L156.85,423.46 L157.56,422.97 L158.26,422.47 L158.95,421.94 L159.64,421.40 L160.31,420.85 L160.98,420.27 L161.63,419.68 L162.28,419.07 L162.91,418.45 L163.53,417.81 L164.13,417.15 L164.73,416.48 L165.31,415.79 L165.88,415.08 L166.43,414.36 L166.97,413.63 L167.50,412.88 L168.01,412.12 L168.50,411.34 L168.98,410.55 L169.44,409.75 L169.88,408.93 L170.31,408.10 L170.72,407.26 L171.12,406.40 L171.49,405.54 L171.85,404.66 L172.19,403.77 L172.50,402.87 L172.80,401.96 L173.08,401.05 L173.34,400.12 L173.58,399.19 L173.80,398.24 L174.00,397.29 L174.18,396.33 L174.34,395.37 L174.47,394.39 L174.58,393.42 L174.68,392.43 L174.75,391.45 L174.79,390.45 L174.82,389.46 L174.82,388.46 L174.80,387.46 L174.76,386.45 L174.69,385.45 L174.61,384.44 L174.50,383.43 L174.36,382.42 L174.20,381.41 L174.02,380.40 L173.82,379.40 L173.59,378.39 L173.34,377.39 L173.07,376.39 L172.77,375.40 L172.45,374.41 L172.11,373.42 L171.74,372.44 L171.35,371.47 L170.94,370.50 L170.51,369.53 L170.05,368.58 L169.57,367.63 L169.07,366.70 L168.54,365.77 L167.99,364.85 L167.43,363.94 L166.83,363.04 L166.22,362.15 L165.59,361.28 L164.93,360.41 L164.26,359.56 L163.56,358.72 L162.84,357.90 L162.11,357.09 L161.35,356.30 L160.58,355.52 L159.78,354.75 L158.97,354.00 L158.14,353.27 L157.29,352.56 L156.42,351.86 L155.53,351.18 L154.63,350.52 L153.71,349.88 L152.78,349.26 L151.83,348.65 L150.86,348.07 L149.88,347.50 L148.89,346.96 L147.88,346.44 L146.86,345.94 L145.83,345.46 L144.78,345.00 L143.72,344.57 L142.65,344.16 L141.57,343.77 L140.48,343.40 L139.37,343.06 L138.26,342.74 L137.14,342.45 L136.02,342.18 L134.88,341.93 L133.74,341.71 L132.59,341.51 L131.43,341.34 L130.27,341.20 L129.10,341.08 L127.93,340.98 L126.76,340.91 L125.58,340.87 L124.40,340.85 L123.22,340.86 L122.03,340.89 L120.85,340.95 L119.66,341.04 L118.48,341.15 L117.29,341.28 L116.11,341.45 L114.93,341.64 L113.76,341.86 L112.58,342.10 L111.41,342.37 L110.25,342.66 L109.09,342.98 L107.93,343.33 L106.79,343.70 L105.64,344.10 L104.51,344.52 L103.39,344.97 L102.27,345.44 L101.16,345.94 L100.07,346.46 L98.98,347.01 L97.90,347.58 L96.84,348.17 L95.79,348.79 L94.75,349.44 L93.72,350.10 L92.71,350.79 L91.71,351.50 L90.73,352.24 L89.76,353.00 L88.81,353.77 L87.87,354.57 L86.95,355.40 L86.05,356.24 L85.17,357.10 L84.30,357.98 L83.46,358.88 L82.63,359.80 L81.82,360.74 L81.04,361.70 L80.27,362.68 L79.52,363.67 L78.80,364.68 L78.10,365.71 L77.42,366.75 L76.76,367.81 L76.13,368.88 L75.52,369.97 L74.93,371.07 L74.36,372.19 L73.82,373.32 L73.31,374.46 L72.82,375.61 L72.36,376.77 L71.92,377.95 L71.50,379.13 L71.11,380.33 L70.75,381.53 L70.42,382.74 L70.11,383.96 L69.83,385.19 L69.57,386.42 L69.34,387.66 L69.14,388.91 L68.97,390.16 L68.82,391.41 L68.71,392.67 L68.62,393.93 L68.55,395.20 L68.52,396.46 L68.51,397.73 L68.53,399.00 L68.58,400.26 L68.66,401.53 L68.76,402.79 L68.89,404.06 L69.05,405.32 L69.24,406.57 L69.46,407.83 L69.70,409.08 L69.97,410.32 L70.27,411.56 L70.60,412.79 L70.95,414.02 L71.33,415.24 L71.73,416.44 L72.17,417.65 L72.63,418.84 L73.11,420.02 L73.63,421.19 L74.16,422.35 L74.73,423.50 L75.32,424.64 L75.93,425.76 L76.57,426.87 L77.23,427.97 L77.92,429.05 L78.63,430.12 L79.36,431.17 L80.12,432.21 L80.90,433.23 L81.70,434.23 L82.53,435.21 L83.37,436.18 L84.24,437.13 L85.13,438.06 L86.04,438.97 L86.97,439.86 L87.91,440.73 L88.88,441.58 L89.86,442.41 L90.87,443.22 L91.89,444.00 L92.93,444.76 L93.98,445.50 L95.05,446.22" fill="none" stroke="#2277c2" stroke-width="1.6" stroke-dasharray="6 4.7" stroke-dashoffset="1.2"/>
<ellipse cx="128.45" cy="395.80" rx="61.6" ry="61.1" fill="none" stroke="#000" stroke-width="2.2"/>
<circle cx="128.45" cy="395.80" r="1.9" fill="#000"/>
<circle cx="135.5" cy="397.2" r="3.6" fill="#0b6dbf"/>
<path d="M278.90,270.39V486.50H465.60" fill="none" stroke="#000" stroke-width="2"/>
<text x="274.40" y="489.70" text-anchor="end" class="tk">0</text>
<text x="274.40" y="458.97" text-anchor="end" class="tk">5</text>
<text x="274.40" y="428.24" text-anchor="end" class="tk">10</text>
<text x="274.40" y="397.51" text-anchor="end" class="tk">15</text>
<text x="274.40" y="366.78" text-anchor="end" class="tk">20</text>
<text x="274.40" y="336.05" text-anchor="end" class="tk">25</text>
<text x="274.40" y="305.32" text-anchor="end" class="tk">30</text>
<text x="274.40" y="274.59" text-anchor="end" class="tk">35</text>
<text x="278.90" y="504.70" text-anchor="middle" class="tk">5</text>
<text x="309.85" y="504.70" text-anchor="middle" class="tk">10</text>
<text x="340.80" y="504.70" text-anchor="middle" class="tk">15</text>
<text x="371.75" y="504.70" text-anchor="middle" class="tk">20</text>
<text x="402.70" y="504.70" text-anchor="middle" class="tk">25</text>
<text x="433.65" y="504.70" text-anchor="middle" class="tk">30</text>
<text x="464.60" y="504.70" text-anchor="middle" class="tk">35</text>
<path d="M275.30,486.50H278.90M275.30,455.77H278.90M275.30,425.04H278.90M275.30,394.31H278.90M275.30,363.58H278.90M275.30,332.85H278.90M275.30,302.12H278.90M275.30,271.39H278.90M278.90,486.50V490.90M309.85,486.50V490.90M340.80,486.50V490.90M371.75,486.50V490.90M402.70,486.50V490.90M433.65,486.50V490.90M464.60,486.50V490.90" fill="none" stroke="#000" stroke-width="2"/>
<text x="372.95" y="517.70" text-anchor="middle" class="at">mRNA</text>
<text transform="translate(254.10,367.38) rotate(-90)" text-anchor="middle" class="at">Protein</text>
<path d="M358.03,473.94 L359.09,473.35 L360.14,472.76 L361.18,472.17 L362.20,471.58 L363.22,470.99 L364.22,470.41 L365.21,469.82 L366.18,469.24 L367.15,468.66 L368.10,468.08 L369.05,467.50 L369.98,466.92 L370.90,466.35 L371.81,465.78 L372.72,465.20 L373.61,464.64 L374.49,464.07 L375.36,463.50 L376.23,462.94 L377.08,462.38 L377.92,461.82 L378.76,461.26 L379.59,460.70 L380.41,460.15 L381.22,459.59 L382.02,459.04 L382.81,458.49 L383.60,457.95 L384.38,457.40 L385.15,456.86 L385.91,456.31 L386.67,455.77 L387.42,455.23 L388.16,454.69 L388.89,454.16 L389.62,453.62 L390.34,453.09 L391.06,452.55 L391.76,452.02 L392.46,451.49 L393.16,450.96 L393.85,450.43 L394.53,449.91 L395.21,449.38 L395.88,448.85 L396.54,448.33 L397.20,447.80 L397.86,447.28 L398.51,446.76 L399.15,446.23 L399.79,445.71 L400.42,445.19 L401.05,444.67 L401.67,444.15 L402.28,443.63 L402.89,443.10 L403.50,442.58 L404.10,442.06 L404.70,441.54 L405.29,441.02 L405.87,440.49 L406.46,439.97 L407.03,439.45 L407.60,438.92 L408.17,438.40 L408.73,437.88 L409.29,437.35 L409.84,436.82 L410.39,436.29 L410.93,435.77 L411.47,435.24 L412.00,434.70 L412.53,434.17 L413.05,433.64 L413.57,433.10 L414.08,432.57 L414.59,432.03 L415.09,431.49 L415.59,430.95 L416.08,430.40 L416.57,429.86 L417.05,429.31 L417.53,428.77 L418.00,428.22 L418.47,427.67 L418.93,427.12 L419.39,426.56 L419.84,426.01 L420.29,425.45 L420.74,424.90 L421.17,424.34 L421.61,423.78 L422.04,423.22 L422.46,422.66 L422.88,422.09 L423.30,421.53 L423.71,420.96 L424.12,420.40 L424.52,419.83 L424.91,419.26 L425.30,418.69 L425.69,418.11 L426.07,417.54 L426.45,416.97 L426.82,416.39 L427.19,415.81 L427.56,415.23 L427.91,414.66 L428.27,414.07 L428.62,413.49 L428.96,412.91 L429.30,412.33 L429.64,411.74 L429.97,411.16 L430.29,410.57 L430.61,409.98 L430.93,409.39 L431.24,408.80 L431.55,408.21 L431.85,407.62 L432.15,407.02 L432.44,406.43 L432.73,405.83 L433.01,405.24 L433.29,404.64 L433.56,404.04 L433.83,403.44 L434.10,402.84 L434.36,402.24 L434.61,401.64 L434.86,401.04 L435.11,400.44 L435.35,399.83 L435.58,399.23 L435.81,398.62 L436.04,398.01 L436.26,397.41 L436.47,396.80 L436.69,396.19 L436.89,395.58 L437.09,394.97 L437.29,394.36 L437.48,393.75 L437.67,393.14 L437.85,392.52 L438.02,391.91 L438.20,391.30 L438.36,390.68 L438.52,390.07 L438.68,389.45 L438.83,388.84 L438.98,388.22 L439.12,387.61 L439.25,386.99 L439.38,386.37 L439.51,385.76 L439.63,385.14 L439.75,384.52 L439.86,383.90 L439.96,383.29 L440.06,382.67 L440.16,382.05 L440.25,381.43 L440.33,380.81 L440.41,380.19 L440.48,379.58 L440.55,378.96 L440.62,378.34 L440.67,377.72 L440.73,377.11 L440.78,376.49 L440.82,375.87 L440.86,375.26 L440.89,374.64 L440.92,374.02 L440.94,373.41 L440.96,372.79 L440.97,372.18 L440.98,371.56 L440.98,370.95 L440.98,370.34 L440.97,369.73 L440.96,369.12 L440.94,368.51 L440.92,367.90 L440.89,367.29 L440.86,366.68 L440.82,366.07 L440.78,365.46 L440.73,364.86 L440.68,364.25 L440.62,363.65 L440.56,363.05 L440.49,362.45 L440.42,361.85 L440.34,361.25 L440.26,360.65 L440.17,360.05 L440.08,359.46 L439.99,358.87 L439.88,358.27 L439.78,357.68 L439.67,357.09 L439.55,356.50 L439.43,355.92 L439.31,355.33 L439.18,354.75 L439.04,354.16 L438.90,353.58 L438.76,353.00 L438.61,352.43 L438.46,351.85 L438.30,351.28 L438.14,350.71 L437.97,350.13 L437.80,349.57 L437.63,349.00 L437.44,348.43 L437.26,347.87 L437.07,347.31 L436.88,346.75 L436.68,346.19 L436.48,345.64 L436.27,345.09 L436.06,344.54 L435.84,343.99 L435.62,343.44 L435.39,342.90 L435.17,342.36 L434.93,341.82 L434.69,341.28 L434.45,340.74 L434.21,340.21 L433.95,339.68 L433.70,339.15 L433.44,338.63 L433.18,338.11 L432.91,337.59 L432.64,337.07 L432.36,336.55 L432.08,336.04 L431.80,335.53 L431.51,335.02 L431.22,334.52 L430.92,334.02 L430.62,333.52 L430.32,333.02 L430.01,332.53 L429.70,332.04 L429.39,331.55 L429.07,331.07 L428.74,330.59 L428.42,330.11 L428.09,329.63 L427.75,329.16 L427.41,328.69 L427.07,328.22 L426.73,327.76 L426.38,327.30 L426.02,326.84 L425.67,326.39 L425.31,325.94 L424.94,325.49 L424.58,325.04 L424.20,324.60 L423.83,324.16 L423.45,323.73 L423.07,323.30 L422.69,322.87 L422.30,322.45 L421.91,322.03 L421.51,321.61 L421.12,321.19 L420.71,320.78 L420.31,320.38 L419.90,319.97 L419.49,319.57 L419.08,319.18 L418.66,318.79 L418.24,318.40 L417.82,318.01 L417.39,317.63 L416.96,317.25 L416.53,316.88 L416.10,316.51 L415.66,316.14 L415.22,315.78 L414.77,315.42 L414.33,315.06 L413.88,314.71 L413.43,314.37 L412.97,314.02 L412.51,313.68 L412.05,313.35 L411.59,313.02 L411.12,312.69 L410.66,312.37 L410.19,312.05 L409.71,311.73 L409.24,311.42 L408.76,311.11 L408.28,310.81 L407.80,310.51 L407.31,310.21 L406.82,309.92 L406.34,309.64 L405.84,309.36 L405.35,309.08 L404.85,308.80 L404.36,308.53 L403.85,308.27 L403.35,308.01 L402.85,307.75 L402.34,307.50 L401.83,307.25 L401.32,307.01 L400.81,306.77 L400.30,306.53 L399.78,306.30 L399.26,306.08 L398.74,305.85 L398.22,305.64 L397.70,305.42 L397.17,305.22 L396.65,305.01 L396.12,304.81 L395.59,304.62 L395.06,304.43 L394.53,304.24 L393.99,304.06 L393.46,303.88 L392.92,303.71 L392.39,303.54 L391.85,303.38 L391.31,303.22 L390.77,303.07 L390.22,302.92 L389.68,302.77 L389.13,302.63 L388.59,302.50 L388.04,302.37 L387.49,302.24 L386.95,302.12 L386.40,302.00 L385.85,301.89 L385.29,301.78 L384.74,301.68 L384.19,301.58 L383.64,301.49 L383.08,301.40 L382.53,301.32 L381.97,301.24 L381.42,301.16 L380.86,301.09 L380.30,301.03 L379.75,300.97 L379.19,300.91 L378.63,300.86 L378.07,300.82 L377.51,300.78 L376.95,300.74 L376.40,300.71 L375.84,300.68 L375.28,300.66 L374.72,300.64 L374.16,300.63 L373.60,300.62 L373.04,300.62 L372.48,300.62 L371.92,300.63 L371.36,300.64 L370.80,300.66 L370.25,300.68 L369.69,300.70 L369.13,300.73 L368.57,300.77 L368.02,300.81 L367.46,300.85 L366.90,300.90 L366.35,300.96 L365.79,301.02 L365.24,301.08 L364.69,301.15 L364.13,301.22 L363.58,301.30 L363.03,301.38 L362.48,301.47 L361.93,301.56 L361.38,301.66 L360.83,301.76 L360.29,301.87 L359.74,301.98 L359.19,302.10 L358.65,302.22 L358.11,302.34 L357.57,302.47 L357.03,302.61 L356.49,302.75 L355.95,302.89 L355.41,303.04 L354.88,303.19 L354.35,303.35 L353.81,303.51 L353.28,303.68 L352.76,303.85 L352.23,304.02 L351.70,304.20 L351.18,304.39 L350.66,304.58 L350.14,304.77 L349.62,304.97 L349.10,305.17 L348.59,305.38 L348.07,305.59 L347.56,305.81 L347.05,306.03 L346.55,306.25 L346.04,306.48 L345.54,306.72 L345.04,306.95 L344.54,307.20 L344.04,307.44 L343.55,307.69 L343.06,307.95 L342.57,308.21 L342.08,308.47 L341.59,308.74 L341.11,309.01 L340.63,309.29 L340.15,309.57 L339.68,309.85 L339.21,310.14 L338.74,310.44 L338.27,310.73 L337.81,311.03 L337.35,311.34 L336.89,311.65 L336.43,311.96 L335.98,312.28 L335.53,312.60 L335.08,312.92 L334.64,313.25 L334.20,313.58 L333.76,313.92 L333.32,314.26 L332.89,314.60 L332.46,314.95 L332.03,315.30 L331.61,315.66 L331.19,316.01 L330.78,316.38 L330.36,316.74 L329.95,317.11 L329.55,317.48 L329.15,317.86 L328.75,318.24 L328.35,318.62 L327.96,319.01 L327.57,319.40 L327.18,319.80 L326.80,320.19 L326.43,320.59 L326.05,321.00 L325.68,321.40 L325.31,321.81 L324.95,322.23 L324.59,322.64 L324.24,323.06 L323.88,323.48 L323.54,323.91 L323.19,324.34 L322.85,324.77 L322.52,325.20 L322.18,325.64 L321.85,326.08 L321.53,326.53 L321.21,326.97 L320.89,327.42 L320.58,327.87 L320.27,328.33 L319.97,328.78 L319.67,329.24 L319.38,329.70 L319.09,330.17 L318.80,330.64 L318.52,331.11 L318.24,331.58 L317.96,332.05 L317.69,332.53 L317.43,333.01 L317.17,333.49 L316.91,333.97 L316.66,334.46 L316.41,334.95 L316.17,335.44 L315.93,335.93 L315.70,336.42 L315.47,336.92 L315.24,337.42" fill="none" stroke="#e01a3c" stroke-width="1.6" stroke-dasharray="6 5.2" stroke-dashoffset="-0.6"/>
<path d="M358.68,374.46 L358.78,374.74 L358.89,375.02 L359.00,375.30 L359.11,375.58 L359.23,375.86 L359.36,376.13 L359.49,376.41 L359.63,376.69 L359.77,376.96 L359.92,377.24 L360.08,377.51 L360.24,377.79 L360.40,378.06 L360.57,378.33 L360.75,378.60 L360.93,378.87 L361.12,379.13 L361.31,379.40 L361.51,379.66 L361.72,379.92 L361.93,380.18 L362.14,380.44 L362.37,380.69 L362.59,380.94 L362.83,381.19 L363.06,381.44 L363.31,381.68 L363.56,381.92 L363.81,382.16 L364.07,382.40 L364.34,382.63 L364.61,382.86 L364.89,383.09 L365.17,383.31 L365.46,383.53 L365.75,383.74 L366.05,383.95 L366.35,384.16 L366.66,384.36 L366.98,384.56 L367.29,384.76 L367.62,384.95 L367.95,385.13 L368.28,385.31 L368.62,385.49 L368.96,385.66 L369.31,385.83 L369.67,385.99 L370.02,386.14 L370.39,386.29 L370.75,386.44 L371.12,386.58 L371.50,386.71 L371.88,386.84 L372.26,386.96 L372.65,387.08 L373.04,387.19 L373.44,387.29 L373.84,387.39 L374.24,387.48 L374.65,387.57 L375.06,387.64 L375.47,387.71 L375.89,387.78 L376.31,387.84 L376.73,387.89 L377.16,387.93 L377.58,387.97 L378.02,388.00 L378.45,388.02 L378.89,388.04 L379.32,388.04 L379.77,388.04 L380.21,388.04 L380.65,388.02 L381.10,388.00 L381.55,387.97 L382.00,387.93 L382.45,387.88 L382.90,387.83 L383.36,387.77 L383.81,387.69 L384.27,387.62 L384.72,387.53 L385.18,387.43 L385.64,387.33 L386.09,387.22 L386.55,387.10 L387.01,386.97 L387.47,386.83 L387.92,386.69 L388.38,386.53 L388.83,386.37 L389.29,386.20 L389.74,386.02 L390.19,385.83 L390.65,385.64 L391.10,385.43 L391.54,385.22 L391.99,384.99 L392.43,384.76 L392.88,384.52 L393.32,384.27 L393.75,384.02 L394.19,383.75 L394.62,383.48 L395.05,383.19 L395.47,382.90 L395.90,382.60 L396.31,382.29 L396.73,381.98 L397.14,381.65 L397.55,381.32 L397.95,380.98 L398.35,380.63 L398.74,380.27 L399.13,379.90 L399.52,379.53 L399.90,379.14 L400.27,378.75 L400.64,378.35 L401.00,377.95 L401.36,377.53 L401.71,377.11 L402.06,376.68 L402.40,376.24 L402.73,375.79 L403.06,375.34 L403.38,374.88 L403.69,374.41 L404.00,373.94 L404.30,373.46 L404.59,372.97 L404.87,372.48 L405.15,371.97 L405.42,371.46 L405.68,370.95 L405.94,370.43 L406.18,369.90 L406.42,369.37 L406.65,368.83 L406.87,368.28 L407.08,367.73 L407.28,367.17 L407.47,366.61 L407.66,366.04 L407.83,365.47 L408.00,364.89 L408.15,364.31 L408.30,363.72 L408.44,363.13 L408.56,362.53 L408.68,361.93 L408.79,361.33 L408.88,360.72 L408.97,360.11 L409.05,359.49 L409.11,358.87 L409.17,358.25 L409.21,357.63 L409.25,357.00 L409.27,356.37 L409.28,355.73 L409.28,355.10 L409.27,354.46 L409.25,353.82 L409.22,353.18 L409.18,352.54 L409.12,351.89 L409.06,351.25 L408.98,350.60 L408.89,349.96 L408.79,349.31 L408.68,348.66 L408.55,348.01 L408.42,347.37 L408.27,346.72 L408.11,346.07 L407.94,345.43 L407.76,344.78 L407.57,344.14 L407.36,343.50 L407.14,342.86 L406.91,342.22 L406.67,341.58 L406.42,340.95 L406.16,340.32 L405.88,339.69 L405.59,339.06 L405.29,338.44 L404.98,337.82 L404.66,337.20 L404.33,336.59 L403.98,335.98 L403.62,335.37 L403.25,334.77 L402.87,334.18 L402.48,333.59 L402.08,333.00 L401.66,332.42 L401.24,331.85 L400.80,331.28 L400.35,330.72 L399.90,330.16 L399.43,329.61 L398.95,329.07 L398.45,328.53 L397.95,328.00 L397.44,327.48 L396.92,326.96 L396.39,326.45 L395.84,325.95 L395.29,325.46 L394.73,324.98 L394.16,324.50 L393.57,324.04 L392.98,323.58 L392.38,323.13 L391.77,322.69 L391.15,322.26 L390.52,321.84 L389.88,321.43 L389.24,321.02 L388.58,320.63 L387.92,320.25 L387.25,319.88 L386.57,319.52 L385.88,319.17 L385.19,318.83 L384.49,318.51 L383.78,318.19 L383.06,317.88 L382.34,317.59 L381.61,317.31 L380.87,317.04 L380.13,316.78 L379.38,316.54 L378.63,316.30 L377.87,316.08 L377.10,315.87 L376.33,315.68 L375.55,315.49 L374.77,315.32 L373.99,315.17 L373.20,315.02 L372.40,314.89 L371.61,314.77 L370.80,314.67 L370.00,314.58 L369.19,314.50 L368.38,314.43 L367.57,314.38 L366.75,314.35 L365.93,314.33 L365.11,314.32 L364.29,314.32 L363.46,314.34 L362.64,314.37 L361.81,314.42 L360.98,314.48 L360.16,314.56 L359.33,314.65 L358.50,314.75 L357.67,314.87 L356.85,315.01 L356.02,315.15 L355.20,315.31 L354.37,315.49 L353.55,315.68 L352.73,315.89 L351.91,316.10 L351.10,316.34 L350.28,316.59 L349.47,316.85 L348.67,317.12 L347.86,317.41 L347.06,317.72 L346.27,318.04 L345.47,318.37 L344.69,318.72 L343.90,319.08 L343.13,319.45 L342.35,319.84 L341.59,320.24 L340.83,320.66 L340.07,321.09 L339.32,321.53 L338.58,321.99 L337.84,322.46 L337.12,322.94 L336.39,323.44 L335.68,323.95 L334.98,324.47 L334.28,325.01 L333.59,325.55 L332.91,326.11 L332.23,326.69 L331.57,327.27 L330.92,327.87 L330.27,328.48 L329.64,329.10 L329.01,329.73 L328.40,330.37 L327.79,331.03 L327.20,331.69 L326.61,332.37 L326.04,333.06 L325.48,333.76 L324.93,334.47 L324.39,335.19 L323.86,335.92 L323.35,336.65 L322.84,337.40 L322.35,338.16 L321.88,338.93 L321.41,339.70 L320.96,340.49 L320.52,341.28 L320.09,342.08 L319.68,342.89 L319.28,343.71 L318.89,344.54 L318.52,345.37 L318.16,346.21 L317.82,347.06 L317.49,347.91 L317.17,348.77 L316.87,349.64 L316.58,350.51 L316.31,351.39 L316.05,352.27 L315.81,353.16 L315.58,354.06 L315.37,354.95 L315.17,355.86 L314.99,356.76 L314.82,357.68 L314.67,358.59 L314.53,359.51 L314.41,360.43 L314.31,361.35 L314.22,362.28 L314.15,363.21 L314.09,364.14 L314.05,365.07 L314.02,366.01 L314.01,366.94 L314.02,367.88 L314.04,368.81 L314.08,369.75 L314.13,370.69 L314.20,371.62 L314.29,372.56 L314.39,373.50 L314.51,374.43 L314.64,375.37 L314.79,376.30 L314.96,377.23 L315.14,378.15 L315.34,379.08 L315.55,380.00 L315.78,380.92 L316.03,381.84 L316.29,382.75 L316.57,383.66 L316.86,384.57 L317.17,385.47 L317.49,386.36 L317.83,387.25 L318.19,388.14 L318.56,389.02 L318.94,389.90 L319.34,390.76 L319.76,391.63 L320.19,392.48 L320.63,393.33 L321.09,394.17 L321.57,395.01 L322.06,395.84 L322.56,396.66 L323.08,397.47 L323.61,398.27 L324.15,399.07 L324.71,399.85 L325.28,400.63 L325.87,401.40 L326.47,402.16 L327.08,402.91 L327.70,403.65 L328.34,404.37 L328.99,405.09 L329.65,405.80 L330.33,406.50 L331.02,407.18 L331.72,407.86 L332.43,408.52 L333.15,409.17 L333.88,409.81 L334.63,410.44 L335.38,411.06 L336.15,411.66 L336.92,412.25 L337.71,412.83 L338.51,413.40 L339.31,413.95 L340.13,414.49 L340.95,415.01 L341.79,415.52 L342.63,416.02 L343.48,416.50 L344.34,416.97 L345.21,417.43 L346.09,417.87 L346.97,418.30 L347.86,418.71 L348.76,419.10 L349.67,419.49 L350.58,419.85 L351.50,420.21 L352.42,420.54 L353.35,420.86 L354.29,421.17 L355.23,421.46 L356.18,421.74 L357.13,422.00 L358.08,422.24 L359.04,422.47 L360.00,422.68 L360.97,422.87 L361.94,423.05 L362.92,423.22 L363.89,423.36 L364.87,423.49 L365.85,423.61 L366.84,423.71 L367.82,423.79 L368.81,423.86 L369.79,423.91 L370.78,423.94 L371.77,423.95 L372.76,423.95 L373.75,423.94 L374.74,423.91 L375.73,423.86 L376.71,423.79 L377.70,423.71 L378.68,423.61 L379.67,423.50 L380.65,423.36 L381.63,423.22 L382.60,423.05 L383.58,422.87 L384.55,422.68 L385.51,422.47 L386.48,422.24 L387.44,421.99 L388.39,421.73 L389.34,421.46 L390.29,421.17 L391.23,420.86 L392.16,420.54 L393.09,420.20 L394.02,419.85 L394.94,419.48 L395.85,419.09 L396.75,418.69 L397.65,418.28 L398.54,417.85 L399.43,417.41 L400.30,416.95 L401.17,416.48 L402.03,415.99 L402.88,415.49 L403.72,414.98 L404.56,414.45 L405.38,413.90 L406.20,413.35 L407.00,412.78 L407.80,412.20 L408.59,411.60 L409.36,410.99 L410.13,410.37 L410.88,409.74 L411.63,409.09 L412.36,408.44 L413.08,407.77 L413.79,407.08 L414.49,406.39 L415.18,405.69 L415.85,404.97 L416.52,404.24 L417.17,403.51 L417.80,402.76 L418.43,402.00 L419.04,401.23 L419.64,400.46 L420.22,399.67 L420.80,398.87 L421.35,398.07" fill="none" stroke="#2277c2" stroke-width="1.6" stroke-dasharray="5.9 4.9" stroke-dashoffset="0.25"/>
<ellipse cx="371.70" cy="363.55" rx="61.6" ry="61.1" fill="none" stroke="#000" stroke-width="2.2"/>
<circle cx="371.70" cy="363.55" r="1.9" fill="#000"/>
<circle cx="358" cy="474.2" r="3.8" fill="#cc1636"/>
<circle cx="357.8" cy="375.2" r="3.7" fill="#0b6dbf"/>
<path d="M309.6,324.4V372M442.8,324.4V372M314.1,348.3V372M410.6,348.3V372" stroke="#000" stroke-width="1.45" fill="none"/>
<line x1="316" y1="331.7" x2="435" y2="331.7" stroke="#e8303e" stroke-width="1.5"/>
<path d="M309.8,331.7 L318,328.4 L316.6,331.7 L318,335 Z" fill="#e8303e"/>
<path d="M441.5,331.7 L433.3,328.4 L434.7,331.7 L433.3,335 Z" fill="#e8303e"/>
<line x1="321" y1="351.2" x2="404" y2="351.2" stroke="#2277c2" stroke-width="1.5"/>
<path d="M315.2,351.2 L323.4,347.9 L322,351.2 L323.4,354.5 Z" fill="#2277c2"/>
<path d="M409.7,351.2 L401.5,347.9 L402.9,351.2 L401.5,354.5 Z" fill="#2277c2"/>
<text x="361.6" y="326.8" class="it">A<tspan class="sub" dy="3.2">1</tspan></text>
<text x="349.4" y="345.9" class="it">A<tspan class="sub" dy="3.2">2</tspan></text>
<text x="296.3" y="291.6" class="it" style="font-size:11.8px">A<tspan class="sub" dy="3.2">1</tspan><tspan dy="-3.2">&gt;2a&gt;A</tspan><tspan class="sub" dy="3.2">2</tspan></text>
<path d="M523.00,302.70V487.90H709.70" fill="none" stroke="#000" stroke-width="2"/>
<text x="518.50" y="491.10" text-anchor="end" class="tk">5</text>
<text x="518.50" y="460.40" text-anchor="end" class="tk">10</text>
<text x="518.50" y="429.70" text-anchor="end" class="tk">15</text>
<text x="518.50" y="399.00" text-anchor="end" class="tk">20</text>
<text x="518.50" y="368.30" text-anchor="end" class="tk">25</text>
<text x="518.50" y="337.60" text-anchor="end" class="tk">30</text>
<text x="518.50" y="306.90" text-anchor="end" class="tk">35</text>
<text x="523.00" y="504.30" text-anchor="middle" class="tk">5</text>
<text x="553.95" y="504.30" text-anchor="middle" class="tk">10</text>
<text x="584.90" y="504.30" text-anchor="middle" class="tk">15</text>
<text x="615.85" y="504.30" text-anchor="middle" class="tk">20</text>
<text x="646.80" y="504.30" text-anchor="middle" class="tk">25</text>
<text x="677.75" y="504.30" text-anchor="middle" class="tk">30</text>
<text x="708.70" y="504.30" text-anchor="middle" class="tk">35</text>
<path d="M519.40,487.90H523.00M519.40,457.20H523.00M519.40,426.50H523.00M519.40,395.80H523.00M519.40,365.10H523.00M519.40,334.40H523.00M519.40,303.70H523.00M523.00,487.90V492.30M553.95,487.90V492.30M584.90,487.90V492.30M615.85,487.90V492.30M646.80,487.90V492.30M677.75,487.90V492.30M708.70,487.90V492.30" fill="none" stroke="#000" stroke-width="2"/>
<text x="617.05" y="517.50" text-anchor="middle" class="at">mRNA</text>
<text transform="translate(498.20,399.60) rotate(-90)" text-anchor="middle" class="at">Protein</text>
<ellipse cx="616.20" cy="395.90" rx="61.6" ry="61.1" fill="none" stroke="#000" stroke-width="2.2"/>
<circle cx="616.20" cy="395.90" r="1.9" fill="#000"/>
<line x1="616.20" y1="395.90" x2="677.75" y2="395.90" stroke="#000" stroke-width="1.45"/>
<line x1="616.20" y1="395.90" x2="649.40" y2="342.60" stroke="#ca1b38" stroke-width="1.5"/>
<circle cx="649.40" cy="342.60" r="3.7" fill="#000"/>
<circle cx="616.20" cy="395.90" r="2" fill="#000"/>
<path d="M626.5,395.8 A10.3,10.3 0 0 0 624.3,389.5" fill="none" stroke="#000" stroke-width="1"/>
<path d="M621.8,386.8 L625.7,387.8 L623.3,390.6 Z" fill="#000"/>
<text x="627.5" y="391.3" class="th">&#952;</text>
<text x="680.6" y="399.8" class="ct">CT6</text>
<circle cx="96" cy="613.5" r="57.5" fill="none" stroke="#000" stroke-width="3.5"/>
<circle cx="96" cy="613.5" r="1.3" fill="#000"/>
<text x="99.55" y="549.5" text-anchor="middle" class="ck">12</text>
<text x="157.3" y="612.8" class="ck">6</text>
<text x="36.2" y="612.8" text-anchor="end" class="ck">18</text>
<text x="99.15" y="683.8" text-anchor="middle" class="ck">0</text>
<line x1="132.6" y1="565.1" x2="149.3" y2="565.1" stroke="#c4202e" stroke-width="2.7"/>
<path d="M157.3,565.1 L148.10000000000002,562.1 L148.10000000000002,568.1 Z" fill="#c4202e"/>
<line x1="128.6" y1="569.8" x2="128.6" y2="587.3" stroke="#c4202e" stroke-width="2.7"/>
<path d="M128.6,595.3 L125.6,584.9 L131.6,584.9 Z" fill="#c4202e"/>
<circle cx="128.1" cy="565.2" r="2.1" fill="#fff" stroke="#1f6fb8" stroke-width="1.25"/>
<circle cx="161" cy="565.2" r="2.1" fill="#fff" stroke="#1b6e3c" stroke-width="1.25"/>
<circle cx="128.3" cy="598.3" r="2.1" fill="#fff" stroke="#1b6e3c" stroke-width="1.25"/>
<circle cx="280.05" cy="613.15" r="57.55" fill="none" stroke="#000" stroke-width="3.5"/>
<circle cx="280.05" cy="613.15" r="1.3" fill="#000"/>
<text x="283.7" y="549.6" text-anchor="middle" class="ck">12</text>
<text x="341.6" y="612.8" class="ck">6</text>
<text x="220.6" y="612.8" text-anchor="end" class="ck">18</text>
<text x="283.25" y="683.7" text-anchor="middle" class="ck">0</text>
<path d="M301.47,559.73 L302.22,560.04 L302.96,560.36 L303.70,560.68 L304.43,561.02 L305.16,561.37 L305.89,561.73 L306.61,562.10 L307.33,562.47 L308.04,562.86 L308.74,563.26 L309.44,563.67 L310.13,564.09 L310.82,564.51 L311.50,564.95 L312.17,565.40 L312.84,565.86 L313.50,566.32 L314.16,566.80 L314.81,567.28 L315.45,567.77 L316.08,568.27 L316.71,568.79 L317.33,569.31 L317.94,569.83 L318.55,570.37 L319.14,570.92 L319.73,571.47 L320.32,572.03 L320.89,572.60 L321.46,573.18 L322.01,573.77 L322.56,574.36 L323.10,574.96 L323.64,575.57 L324.16,576.19 L324.68,576.81 L325.18,577.44 L325.68,578.08 L326.17,578.72" fill="none" stroke="#a9cfe0" stroke-width="4.6"/>
<path d="M280.05,613.15 L301.6,559.4 M280.05,613.15 L326.2,578.7" stroke="#1f6fb8" stroke-width="1.3" fill="none"/>
<circle cx="306.4" cy="561.3" r="0.55" fill="#555"/>
<circle cx="309.3" cy="563.1" r="0.55" fill="#555"/>
<circle cx="311.9" cy="565.1" r="0.55" fill="#555"/>
<circle cx="301.6" cy="559.4" r="2.1" fill="#fff" stroke="#1f6fb8" stroke-width="1.25"/>
<circle cx="326.2" cy="578.7" r="2.1" fill="#fff" stroke="#1f6fb8" stroke-width="1.25"/>
<circle cx="457.1" cy="613.1" r="57.4" fill="none" stroke="#000" stroke-width="3.5"/>
<circle cx="457.1" cy="613.1" r="1.3" fill="#000"/>
<text x="459.65" y="549.6" text-anchor="middle" class="ck">12</text>
<text x="517.5" y="612.8" class="ck">6</text>
<text x="396.5" y="612.8" text-anchor="end" class="ck">18</text>
<text x="459.2" y="683.8" text-anchor="middle" class="ck">0</text>
<path d="M478.30,559.76 L479.05,560.06 L479.79,560.38 L480.53,560.70 L481.27,561.04 L482.00,561.38 L482.73,561.74 L483.45,562.11 L484.17,562.48 L484.88,562.87 L485.58,563.26 L486.28,563.67 L486.98,564.09 L487.66,564.51 L488.34,564.95 L489.02,565.39 L489.69,565.85 L490.35,566.31 L491.01,566.79 L491.66,567.27 L492.30,567.76 L492.94,568.26 L493.56,568.77 L494.19,569.29 L494.80,569.82 L495.41,570.35 L496.00,570.90 L496.60,571.45 L497.18,572.01 L497.75,572.58 L498.32,573.16 L498.88,573.74 L499.43,574.33 L499.97,574.93 L500.51,575.54 L501.03,576.16 L501.55,576.78 L502.06,577.41 L502.55,578.05 L503.04,578.69" fill="none" stroke="#a9cfe0" stroke-width="4.6"/>
<path d="M512.10,559.76 L512.85,560.06 L513.59,560.38 L514.33,560.70 L515.07,561.04 L515.80,561.38 L516.53,561.74 L517.25,562.11 L517.97,562.48 L518.68,562.87 L519.38,563.26 L520.08,563.67 L520.78,564.09 L521.46,564.51 L522.14,564.95 L522.82,565.39 L523.49,565.85 L524.15,566.31 L524.81,566.79 L525.46,567.27 L526.10,567.76 L526.74,568.26 L527.36,568.77 L527.99,569.29 L528.60,569.82 L529.21,570.35 L529.80,570.90 L530.40,571.45 L530.98,572.01 L531.55,572.58 L532.12,573.16 L532.68,573.74 L533.23,574.33 L533.77,574.93 L534.31,575.54 L534.83,576.16 L535.35,576.78 L535.86,577.41 L536.35,578.05 L536.84,578.69" fill="none" stroke="#b6cfc3" stroke-width="4.6"/>
<path d="M457.1,613.1 L478.4,559.5 M457.1,613.1 L503.3,578.5" stroke="#1f6fb8" stroke-width="1.3" fill="none"/>
<path d="M457.1,613.1 L512.1,559.5 M457.1,613.1 L537,578.5" stroke="#1b6e3c" stroke-width="1.3" fill="none"/>
<circle cx="483.2" cy="561.6" r="0.55" fill="#555"/>
<circle cx="486.2" cy="563.3" r="0.55" fill="#555"/>
<circle cx="488.8" cy="565" r="0.55" fill="#555"/>
<circle cx="517.4" cy="561.6" r="0.55" fill="#555"/>
<circle cx="520.4" cy="563.3" r="0.55" fill="#555"/>
<circle cx="523" cy="565" r="0.55" fill="#555"/>
<circle cx="478.4" cy="559.5" r="2.1" fill="#fff" stroke="#1f6fb8" stroke-width="1.25"/>
<circle cx="503.3" cy="578.5" r="2.1" fill="#fff" stroke="#1f6fb8" stroke-width="1.25"/>
<circle cx="512.1" cy="559.5" r="2.1" fill="#fff" stroke="#1b6e3c" stroke-width="1.25"/>
<circle cx="537" cy="578.5" r="2.1" fill="#fff" stroke="#1b6e3c" stroke-width="1.25"/>
<line x1="497.4" y1="569.9" x2="513.8" y2="569.9" stroke="#c4202e" stroke-width="2.7"/>
<path d="M521.8,569.9 L512.3,566.6 L512.3,573.1999999999999 Z" fill="#c4202e"/>
<circle cx="648.8" cy="613.95" r="57.4" fill="none" stroke="#000" stroke-width="3.5"/>
<circle cx="648.8" cy="613.95" r="1.3" fill="#000"/>
<text x="648.7" y="549.6" text-anchor="middle" class="ck">12</text>
<text x="709.2" y="618.4" class="ck">6</text>
<text x="589.1" y="618.4" text-anchor="end" class="ck">18</text>
<text x="648.25" y="683.8" text-anchor="middle" class="ck">0</text>
<path d="M596.46,590.39 L596.13,591.13 L595.82,591.87 L595.51,592.62 L595.22,593.37 L594.93,594.13 L594.66,594.89 L594.40,595.65 L594.14,596.42 L593.90,597.19 L593.67,597.96 L593.45,598.74 L593.24,599.52 L593.05,600.30 L592.86,601.08 L592.69,601.87 L592.52,602.66 L592.37,603.45 L592.23,604.25 L592.10,605.04 L591.98,605.84 L591.87,606.64 L591.77,607.44 L591.68,608.25 L591.61,609.05 L591.55,609.85 L591.49,610.66 L591.45,611.47 L591.42,612.27 L591.41,613.08 L591.40,613.89 L591.40,614.69 L591.42,615.50 L591.45,616.31 L591.49,617.11 L591.54,617.92 L591.60,618.72 L591.67,619.53 L591.76,620.33 L591.85,621.13" fill="none" stroke="#a9cfe0" stroke-width="4.8"/>
<path d="M642.16,590.39 L641.83,591.13 L641.52,591.87 L641.21,592.62 L640.92,593.37 L640.63,594.13 L640.36,594.89 L640.10,595.65 L639.84,596.42 L639.60,597.19 L639.37,597.96 L639.15,598.74 L638.94,599.52 L638.75,600.30 L638.56,601.08 L638.39,601.87 L638.22,602.66 L638.07,603.45 L637.93,604.25 L637.80,605.04 L637.68,605.84 L637.57,606.64 L637.47,607.44 L637.38,608.25 L637.31,609.05 L637.25,609.85 L637.19,610.66 L637.15,611.47 L637.12,612.27 L637.11,613.08 L637.10,613.89 L637.10,614.69 L637.12,615.50 L637.15,616.31 L637.19,617.11 L637.24,617.92 L637.30,618.72 L637.37,619.53 L637.46,620.33 L637.55,621.13" fill="none" stroke="#b6cfc3" stroke-width="4.8"/>
<path d="M648.8,613.95 L596.7,590.5 M648.8,613.95 L592.1,621.1" stroke="#1f6fb8" stroke-width="1.3" fill="none"/>
<path d="M648.8,613.95 L642.4,590.5 M648.8,613.95 L637.9,621.1" stroke="#1b6e3c" stroke-width="1.3" fill="none"/>
<circle cx="591.5" cy="609.2" r="0.55" fill="#555"/>
<circle cx="591.4" cy="612.6" r="0.55" fill="#555"/>
<circle cx="591.4" cy="616.2" r="0.55" fill="#555"/>
<circle cx="637.2" cy="609.2" r="0.55" fill="#555"/>
<circle cx="637.1" cy="612.6" r="0.55" fill="#555"/>
<circle cx="637.1" cy="616.2" r="0.55" fill="#555"/>
<circle cx="596.7" cy="590.5" r="2.1" fill="#fff" stroke="#1f6fb8" stroke-width="1.25"/>
<circle cx="592.1" cy="621.1" r="2.1" fill="#fff" stroke="#1f6fb8" stroke-width="1.25"/>
<circle cx="642.4" cy="590.5" r="2.1" fill="#fff" stroke="#1b6e3c" stroke-width="1.25"/>
<circle cx="637.9" cy="621.1" r="2.1" fill="#fff" stroke="#1b6e3c" stroke-width="1.25"/>
<line x1="601.8" y1="588.6" x2="629.4" y2="588.6" stroke="#c4202e" stroke-width="2.7"/>
<path d="M637.4,588.6 L627.9,585.3000000000001 L627.9,591.9 Z" fill="#c4202e"/>
</svg>
</body></html>
